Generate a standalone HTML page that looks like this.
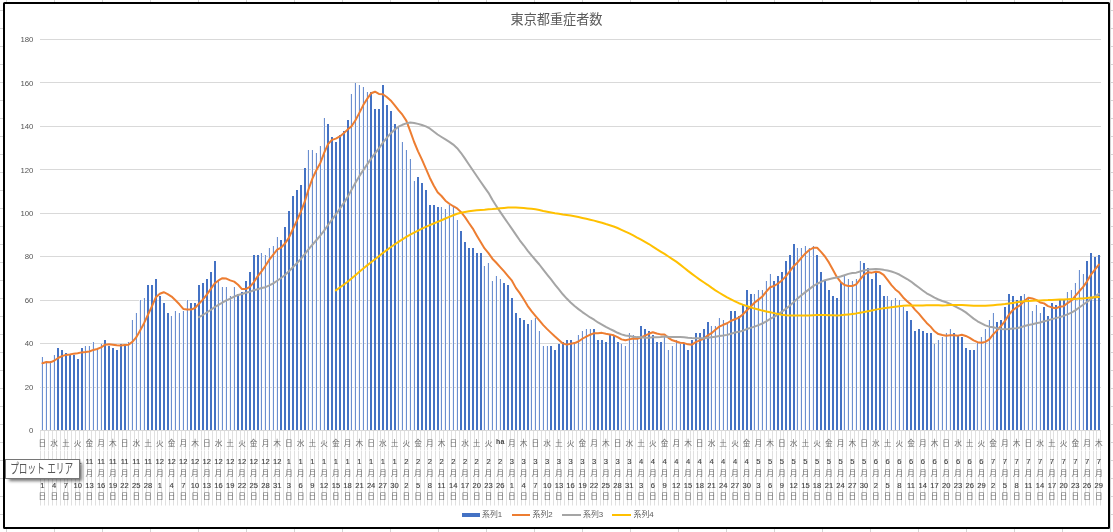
<!DOCTYPE html>
<html lang="ja"><head><meta charset="utf-8"><title>東京都重症者数</title>
<style>
html,body{margin:0;padding:0;background:#fff;}
body{width:1113px;height:532px;overflow:hidden;position:relative;font-family:"Liberation Sans","Noto Sans CJK JP",sans-serif;}
#sheet{position:absolute;left:0;top:0;width:1113px;height:532px;
 background-image:linear-gradient(to right,#d4d4d4 1px,transparent 1px),linear-gradient(to bottom,#d4d4d4 1px,transparent 1px);
 background-size:48px 100%,100% 18px;background-position:6px 0,0 10px;background-color:#fff;}
#chart{position:absolute;left:3px;top:2px;width:1103px;height:523px;border:2px solid #000;border-radius:1.5px;background:#fff;}
svg{position:absolute;left:0;top:0;}
svg text{font-family:"Liberation Sans","Noto Sans CJK JP",sans-serif;}
#tip{position:absolute;left:5px;top:459px;width:73px;height:18px;border:1px solid #767676;background:#fff;
 box-shadow:3px 3px 3px -1px rgba(0,0,0,.55);font-size:12px;line-height:18px;color:#575757;white-space:nowrap;text-align:center;
 font-family:"Liberation Sans","Noto Sans CJK JP",sans-serif;}
#tip span{display:inline-block;position:relative;left:-0.7px;top:0.2px;transform:scale(0.72,1.1);transform-origin:50% 50%;margin:0 -20px;letter-spacing:0;}
</style></head><body>
<div id="sheet"></div><div id="chart"></div>
<svg width="1113" height="532" viewBox="0 0 1113 532">
<g shape-rendering="crispEdges" fill="#D9D9D9">
<rect x="40" y="39" width="1061" height="1"/>
<rect x="40" y="82" width="1061" height="1"/>
<rect x="40" y="126" width="1061" height="1"/>
<rect x="40" y="169" width="1061" height="1"/>
<rect x="40" y="213" width="1061" height="1"/>
<rect x="40" y="256" width="1061" height="1"/>
<rect x="40" y="300" width="1061" height="1"/>
<rect x="40" y="343" width="1061" height="1"/>
<rect x="40" y="387" width="1061" height="1"/>
<rect x="40" y="430" width="1061" height="1"/>
</g>
<g font-size="7.8" fill="#555" text-anchor="end">
<text x="33.4" y="42.2">180</text>
<text x="33.4" y="85.6">160</text>
<text x="33.4" y="129.1">140</text>
<text x="33.4" y="172.5">120</text>
<text x="33.4" y="216.0">100</text>
<text x="33.4" y="259.4">80</text>
<text x="33.4" y="302.9">60</text>
<text x="33.4" y="346.3">40</text>
<text x="33.4" y="389.8">20</text>
<text x="33.4" y="433.2">0</text>
</g>
<g shape-rendering="crispEdges" fill="#E0E0E0">
<rect x="40" y="431" width="1" height="74"/><rect x="40" y="505" width="1" height="1" fill-opacity="0.5"/>
<rect x="44" y="431" width="1" height="74"/><rect x="44" y="505" width="1" height="1" fill-opacity="0.5"/>
<rect x="48" y="431" width="1" height="74"/><rect x="48" y="505" width="1" height="1" fill-opacity="0.5"/>
<rect x="52" y="431" width="1" height="74"/><rect x="52" y="505" width="1" height="1" fill-opacity="0.5"/>
<rect x="56" y="431" width="1" height="74"/><rect x="56" y="505" width="1" height="1" fill-opacity="0.5"/>
<rect x="60" y="431" width="1" height="74"/><rect x="60" y="505" width="1" height="1" fill-opacity="0.5"/>
<rect x="64" y="431" width="1" height="74"/><rect x="64" y="505" width="1" height="1" fill-opacity="0.5"/>
<rect x="67" y="431" width="1" height="74"/><rect x="67" y="505" width="1" height="1" fill-opacity="0.5"/>
<rect x="71" y="431" width="1" height="74"/><rect x="71" y="505" width="1" height="1" fill-opacity="0.5"/>
<rect x="75" y="431" width="1" height="74"/><rect x="75" y="505" width="1" height="1" fill-opacity="0.5"/>
<rect x="79" y="431" width="1" height="74"/><rect x="79" y="505" width="1" height="1" fill-opacity="0.5"/>
<rect x="83" y="431" width="1" height="74"/><rect x="83" y="505" width="1" height="1" fill-opacity="0.5"/>
<rect x="87" y="431" width="1" height="74"/><rect x="87" y="505" width="1" height="1" fill-opacity="0.5"/>
<rect x="91" y="431" width="1" height="74"/><rect x="91" y="505" width="1" height="1" fill-opacity="0.5"/>
<rect x="95" y="431" width="1" height="74"/><rect x="95" y="505" width="1" height="1" fill-opacity="0.5"/>
<rect x="99" y="431" width="1" height="74"/><rect x="99" y="505" width="1" height="1" fill-opacity="0.5"/>
<rect x="103" y="431" width="1" height="74"/><rect x="103" y="505" width="1" height="1" fill-opacity="0.5"/>
<rect x="107" y="431" width="1" height="74"/><rect x="107" y="505" width="1" height="1" fill-opacity="0.5"/>
<rect x="111" y="431" width="1" height="74"/><rect x="111" y="505" width="1" height="1" fill-opacity="0.5"/>
<rect x="114" y="431" width="1" height="74"/><rect x="114" y="505" width="1" height="1" fill-opacity="0.5"/>
<rect x="118" y="431" width="1" height="74"/><rect x="118" y="505" width="1" height="1" fill-opacity="0.5"/>
<rect x="122" y="431" width="1" height="74"/><rect x="122" y="505" width="1" height="1" fill-opacity="0.5"/>
<rect x="126" y="431" width="1" height="74"/><rect x="126" y="505" width="1" height="1" fill-opacity="0.5"/>
<rect x="130" y="431" width="1" height="74"/><rect x="130" y="505" width="1" height="1" fill-opacity="0.5"/>
<rect x="134" y="431" width="1" height="74"/><rect x="134" y="505" width="1" height="1" fill-opacity="0.5"/>
<rect x="138" y="431" width="1" height="74"/><rect x="138" y="505" width="1" height="1" fill-opacity="0.5"/>
<rect x="142" y="431" width="1" height="74"/><rect x="142" y="505" width="1" height="1" fill-opacity="0.5"/>
<rect x="146" y="431" width="1" height="74"/><rect x="146" y="505" width="1" height="1" fill-opacity="0.5"/>
<rect x="150" y="431" width="1" height="74"/><rect x="150" y="505" width="1" height="1" fill-opacity="0.5"/>
<rect x="154" y="431" width="1" height="74"/><rect x="154" y="505" width="1" height="1" fill-opacity="0.5"/>
<rect x="157" y="431" width="1" height="74"/><rect x="157" y="505" width="1" height="1" fill-opacity="0.5"/>
<rect x="161" y="431" width="1" height="74"/><rect x="161" y="505" width="1" height="1" fill-opacity="0.5"/>
<rect x="165" y="431" width="1" height="74"/><rect x="165" y="505" width="1" height="1" fill-opacity="0.5"/>
<rect x="169" y="431" width="1" height="74"/><rect x="169" y="505" width="1" height="1" fill-opacity="0.5"/>
<rect x="173" y="431" width="1" height="74"/><rect x="173" y="505" width="1" height="1" fill-opacity="0.5"/>
<rect x="177" y="431" width="1" height="74"/><rect x="177" y="505" width="1" height="1" fill-opacity="0.5"/>
<rect x="181" y="431" width="1" height="74"/><rect x="181" y="505" width="1" height="1" fill-opacity="0.5"/>
<rect x="185" y="431" width="1" height="74"/><rect x="185" y="505" width="1" height="1" fill-opacity="0.5"/>
<rect x="189" y="431" width="1" height="74"/><rect x="189" y="505" width="1" height="1" fill-opacity="0.5"/>
<rect x="193" y="431" width="1" height="74"/><rect x="193" y="505" width="1" height="1" fill-opacity="0.5"/>
<rect x="197" y="431" width="1" height="74"/><rect x="197" y="505" width="1" height="1" fill-opacity="0.5"/>
<rect x="201" y="431" width="1" height="74"/><rect x="201" y="505" width="1" height="1" fill-opacity="0.5"/>
<rect x="204" y="431" width="1" height="74"/><rect x="204" y="505" width="1" height="1" fill-opacity="0.5"/>
<rect x="208" y="431" width="1" height="74"/><rect x="208" y="505" width="1" height="1" fill-opacity="0.5"/>
<rect x="212" y="431" width="1" height="74"/><rect x="212" y="505" width="1" height="1" fill-opacity="0.5"/>
<rect x="216" y="431" width="1" height="74"/><rect x="216" y="505" width="1" height="1" fill-opacity="0.5"/>
<rect x="220" y="431" width="1" height="74"/><rect x="220" y="505" width="1" height="1" fill-opacity="0.5"/>
<rect x="224" y="431" width="1" height="74"/><rect x="224" y="505" width="1" height="1" fill-opacity="0.5"/>
<rect x="228" y="431" width="1" height="74"/><rect x="228" y="505" width="1" height="1" fill-opacity="0.5"/>
<rect x="232" y="431" width="1" height="74"/><rect x="232" y="505" width="1" height="1" fill-opacity="0.5"/>
<rect x="236" y="431" width="1" height="74"/><rect x="236" y="505" width="1" height="1" fill-opacity="0.5"/>
<rect x="240" y="431" width="1" height="74"/><rect x="240" y="505" width="1" height="1" fill-opacity="0.5"/>
<rect x="244" y="431" width="1" height="74"/><rect x="244" y="505" width="1" height="1" fill-opacity="0.5"/>
<rect x="247" y="431" width="1" height="74"/><rect x="247" y="505" width="1" height="1" fill-opacity="0.5"/>
<rect x="251" y="431" width="1" height="74"/><rect x="251" y="505" width="1" height="1" fill-opacity="0.5"/>
<rect x="255" y="431" width="1" height="74"/><rect x="255" y="505" width="1" height="1" fill-opacity="0.5"/>
<rect x="259" y="431" width="1" height="74"/><rect x="259" y="505" width="1" height="1" fill-opacity="0.5"/>
<rect x="263" y="431" width="1" height="74"/><rect x="263" y="505" width="1" height="1" fill-opacity="0.5"/>
<rect x="267" y="431" width="1" height="74"/><rect x="267" y="505" width="1" height="1" fill-opacity="0.5"/>
<rect x="271" y="431" width="1" height="74"/><rect x="271" y="505" width="1" height="1" fill-opacity="0.5"/>
<rect x="275" y="431" width="1" height="74"/><rect x="275" y="505" width="1" height="1" fill-opacity="0.5"/>
<rect x="279" y="431" width="1" height="74"/><rect x="279" y="505" width="1" height="1" fill-opacity="0.5"/>
<rect x="283" y="431" width="1" height="74"/><rect x="283" y="505" width="1" height="1" fill-opacity="0.5"/>
<rect x="287" y="431" width="1" height="74"/><rect x="287" y="505" width="1" height="1" fill-opacity="0.5"/>
<rect x="290" y="431" width="1" height="74"/><rect x="290" y="505" width="1" height="1" fill-opacity="0.5"/>
<rect x="294" y="431" width="1" height="74"/><rect x="294" y="505" width="1" height="1" fill-opacity="0.5"/>
<rect x="298" y="431" width="1" height="74"/><rect x="298" y="505" width="1" height="1" fill-opacity="0.5"/>
<rect x="302" y="431" width="1" height="74"/><rect x="302" y="505" width="1" height="1" fill-opacity="0.5"/>
<rect x="306" y="431" width="1" height="74"/><rect x="306" y="505" width="1" height="1" fill-opacity="0.5"/>
<rect x="310" y="431" width="1" height="74"/><rect x="310" y="505" width="1" height="1" fill-opacity="0.5"/>
<rect x="314" y="431" width="1" height="74"/><rect x="314" y="505" width="1" height="1" fill-opacity="0.5"/>
<rect x="318" y="431" width="1" height="74"/><rect x="318" y="505" width="1" height="1" fill-opacity="0.5"/>
<rect x="322" y="431" width="1" height="74"/><rect x="322" y="505" width="1" height="1" fill-opacity="0.5"/>
<rect x="326" y="431" width="1" height="74"/><rect x="326" y="505" width="1" height="1" fill-opacity="0.5"/>
<rect x="330" y="431" width="1" height="74"/><rect x="330" y="505" width="1" height="1" fill-opacity="0.5"/>
<rect x="334" y="431" width="1" height="74"/><rect x="334" y="505" width="1" height="1" fill-opacity="0.5"/>
<rect x="337" y="431" width="1" height="74"/><rect x="337" y="505" width="1" height="1" fill-opacity="0.5"/>
<rect x="341" y="431" width="1" height="74"/><rect x="341" y="505" width="1" height="1" fill-opacity="0.5"/>
<rect x="345" y="431" width="1" height="74"/><rect x="345" y="505" width="1" height="1" fill-opacity="0.5"/>
<rect x="349" y="431" width="1" height="74"/><rect x="349" y="505" width="1" height="1" fill-opacity="0.5"/>
<rect x="353" y="431" width="1" height="74"/><rect x="353" y="505" width="1" height="1" fill-opacity="0.5"/>
<rect x="357" y="431" width="1" height="74"/><rect x="357" y="505" width="1" height="1" fill-opacity="0.5"/>
<rect x="361" y="431" width="1" height="74"/><rect x="361" y="505" width="1" height="1" fill-opacity="0.5"/>
<rect x="365" y="431" width="1" height="74"/><rect x="365" y="505" width="1" height="1" fill-opacity="0.5"/>
<rect x="369" y="431" width="1" height="74"/><rect x="369" y="505" width="1" height="1" fill-opacity="0.5"/>
<rect x="373" y="431" width="1" height="74"/><rect x="373" y="505" width="1" height="1" fill-opacity="0.5"/>
<rect x="377" y="431" width="1" height="74"/><rect x="377" y="505" width="1" height="1" fill-opacity="0.5"/>
<rect x="380" y="431" width="1" height="74"/><rect x="380" y="505" width="1" height="1" fill-opacity="0.5"/>
<rect x="384" y="431" width="1" height="74"/><rect x="384" y="505" width="1" height="1" fill-opacity="0.5"/>
<rect x="388" y="431" width="1" height="74"/><rect x="388" y="505" width="1" height="1" fill-opacity="0.5"/>
<rect x="392" y="431" width="1" height="74"/><rect x="392" y="505" width="1" height="1" fill-opacity="0.5"/>
<rect x="396" y="431" width="1" height="74"/><rect x="396" y="505" width="1" height="1" fill-opacity="0.5"/>
<rect x="400" y="431" width="1" height="74"/><rect x="400" y="505" width="1" height="1" fill-opacity="0.5"/>
<rect x="404" y="431" width="1" height="74"/><rect x="404" y="505" width="1" height="1" fill-opacity="0.5"/>
<rect x="408" y="431" width="1" height="74"/><rect x="408" y="505" width="1" height="1" fill-opacity="0.5"/>
<rect x="412" y="431" width="1" height="74"/><rect x="412" y="505" width="1" height="1" fill-opacity="0.5"/>
<rect x="416" y="431" width="1" height="74"/><rect x="416" y="505" width="1" height="1" fill-opacity="0.5"/>
<rect x="420" y="431" width="1" height="74"/><rect x="420" y="505" width="1" height="1" fill-opacity="0.5"/>
<rect x="424" y="431" width="1" height="74"/><rect x="424" y="505" width="1" height="1" fill-opacity="0.5"/>
<rect x="427" y="431" width="1" height="74"/><rect x="427" y="505" width="1" height="1" fill-opacity="0.5"/>
<rect x="431" y="431" width="1" height="74"/><rect x="431" y="505" width="1" height="1" fill-opacity="0.5"/>
<rect x="435" y="431" width="1" height="74"/><rect x="435" y="505" width="1" height="1" fill-opacity="0.5"/>
<rect x="439" y="431" width="1" height="74"/><rect x="439" y="505" width="1" height="1" fill-opacity="0.5"/>
<rect x="443" y="431" width="1" height="74"/><rect x="443" y="505" width="1" height="1" fill-opacity="0.5"/>
<rect x="447" y="431" width="1" height="74"/><rect x="447" y="505" width="1" height="1" fill-opacity="0.5"/>
<rect x="451" y="431" width="1" height="74"/><rect x="451" y="505" width="1" height="1" fill-opacity="0.5"/>
<rect x="455" y="431" width="1" height="74"/><rect x="455" y="505" width="1" height="1" fill-opacity="0.5"/>
<rect x="459" y="431" width="1" height="74"/><rect x="459" y="505" width="1" height="1" fill-opacity="0.5"/>
<rect x="463" y="431" width="1" height="74"/><rect x="463" y="505" width="1" height="1" fill-opacity="0.5"/>
<rect x="467" y="431" width="1" height="74"/><rect x="467" y="505" width="1" height="1" fill-opacity="0.5"/>
<rect x="470" y="431" width="1" height="74"/><rect x="470" y="505" width="1" height="1" fill-opacity="0.5"/>
<rect x="474" y="431" width="1" height="74"/><rect x="474" y="505" width="1" height="1" fill-opacity="0.5"/>
<rect x="478" y="431" width="1" height="74"/><rect x="478" y="505" width="1" height="1" fill-opacity="0.5"/>
<rect x="482" y="431" width="1" height="74"/><rect x="482" y="505" width="1" height="1" fill-opacity="0.5"/>
<rect x="486" y="431" width="1" height="74"/><rect x="486" y="505" width="1" height="1" fill-opacity="0.5"/>
<rect x="490" y="431" width="1" height="74"/><rect x="490" y="505" width="1" height="1" fill-opacity="0.5"/>
<rect x="494" y="431" width="1" height="74"/><rect x="494" y="505" width="1" height="1" fill-opacity="0.5"/>
<rect x="498" y="431" width="1" height="74"/><rect x="498" y="505" width="1" height="1" fill-opacity="0.5"/>
<rect x="502" y="431" width="1" height="74"/><rect x="502" y="505" width="1" height="1" fill-opacity="0.5"/>
<rect x="506" y="431" width="1" height="74"/><rect x="506" y="505" width="1" height="1" fill-opacity="0.5"/>
<rect x="510" y="431" width="1" height="74"/><rect x="510" y="505" width="1" height="1" fill-opacity="0.5"/>
<rect x="514" y="431" width="1" height="74"/><rect x="514" y="505" width="1" height="1" fill-opacity="0.5"/>
<rect x="517" y="431" width="1" height="74"/><rect x="517" y="505" width="1" height="1" fill-opacity="0.5"/>
<rect x="521" y="431" width="1" height="74"/><rect x="521" y="505" width="1" height="1" fill-opacity="0.5"/>
<rect x="525" y="431" width="1" height="74"/><rect x="525" y="505" width="1" height="1" fill-opacity="0.5"/>
<rect x="529" y="431" width="1" height="74"/><rect x="529" y="505" width="1" height="1" fill-opacity="0.5"/>
<rect x="533" y="431" width="1" height="74"/><rect x="533" y="505" width="1" height="1" fill-opacity="0.5"/>
<rect x="537" y="431" width="1" height="74"/><rect x="537" y="505" width="1" height="1" fill-opacity="0.5"/>
<rect x="541" y="431" width="1" height="74"/><rect x="541" y="505" width="1" height="1" fill-opacity="0.5"/>
<rect x="545" y="431" width="1" height="74"/><rect x="545" y="505" width="1" height="1" fill-opacity="0.5"/>
<rect x="549" y="431" width="1" height="74"/><rect x="549" y="505" width="1" height="1" fill-opacity="0.5"/>
<rect x="553" y="431" width="1" height="74"/><rect x="553" y="505" width="1" height="1" fill-opacity="0.5"/>
<rect x="557" y="431" width="1" height="74"/><rect x="557" y="505" width="1" height="1" fill-opacity="0.5"/>
<rect x="560" y="431" width="1" height="74"/><rect x="560" y="505" width="1" height="1" fill-opacity="0.5"/>
<rect x="564" y="431" width="1" height="74"/><rect x="564" y="505" width="1" height="1" fill-opacity="0.5"/>
<rect x="568" y="431" width="1" height="74"/><rect x="568" y="505" width="1" height="1" fill-opacity="0.5"/>
<rect x="572" y="431" width="1" height="74"/><rect x="572" y="505" width="1" height="1" fill-opacity="0.5"/>
<rect x="576" y="431" width="1" height="74"/><rect x="576" y="505" width="1" height="1" fill-opacity="0.5"/>
<rect x="580" y="431" width="1" height="74"/><rect x="580" y="505" width="1" height="1" fill-opacity="0.5"/>
<rect x="584" y="431" width="1" height="74"/><rect x="584" y="505" width="1" height="1" fill-opacity="0.5"/>
<rect x="588" y="431" width="1" height="74"/><rect x="588" y="505" width="1" height="1" fill-opacity="0.5"/>
<rect x="592" y="431" width="1" height="74"/><rect x="592" y="505" width="1" height="1" fill-opacity="0.5"/>
<rect x="596" y="431" width="1" height="74"/><rect x="596" y="505" width="1" height="1" fill-opacity="0.5"/>
<rect x="600" y="431" width="1" height="74"/><rect x="600" y="505" width="1" height="1" fill-opacity="0.5"/>
<rect x="603" y="431" width="1" height="74"/><rect x="603" y="505" width="1" height="1" fill-opacity="0.5"/>
<rect x="607" y="431" width="1" height="74"/><rect x="607" y="505" width="1" height="1" fill-opacity="0.5"/>
<rect x="611" y="431" width="1" height="74"/><rect x="611" y="505" width="1" height="1" fill-opacity="0.5"/>
<rect x="615" y="431" width="1" height="74"/><rect x="615" y="505" width="1" height="1" fill-opacity="0.5"/>
<rect x="619" y="431" width="1" height="74"/><rect x="619" y="505" width="1" height="1" fill-opacity="0.5"/>
<rect x="623" y="431" width="1" height="74"/><rect x="623" y="505" width="1" height="1" fill-opacity="0.5"/>
<rect x="627" y="431" width="1" height="74"/><rect x="627" y="505" width="1" height="1" fill-opacity="0.5"/>
<rect x="631" y="431" width="1" height="74"/><rect x="631" y="505" width="1" height="1" fill-opacity="0.5"/>
<rect x="635" y="431" width="1" height="74"/><rect x="635" y="505" width="1" height="1" fill-opacity="0.5"/>
<rect x="639" y="431" width="1" height="74"/><rect x="639" y="505" width="1" height="1" fill-opacity="0.5"/>
<rect x="643" y="431" width="1" height="74"/><rect x="643" y="505" width="1" height="1" fill-opacity="0.5"/>
<rect x="647" y="431" width="1" height="74"/><rect x="647" y="505" width="1" height="1" fill-opacity="0.5"/>
<rect x="650" y="431" width="1" height="74"/><rect x="650" y="505" width="1" height="1" fill-opacity="0.5"/>
<rect x="654" y="431" width="1" height="74"/><rect x="654" y="505" width="1" height="1" fill-opacity="0.5"/>
<rect x="658" y="431" width="1" height="74"/><rect x="658" y="505" width="1" height="1" fill-opacity="0.5"/>
<rect x="662" y="431" width="1" height="74"/><rect x="662" y="505" width="1" height="1" fill-opacity="0.5"/>
<rect x="666" y="431" width="1" height="74"/><rect x="666" y="505" width="1" height="1" fill-opacity="0.5"/>
<rect x="670" y="431" width="1" height="74"/><rect x="670" y="505" width="1" height="1" fill-opacity="0.5"/>
<rect x="674" y="431" width="1" height="74"/><rect x="674" y="505" width="1" height="1" fill-opacity="0.5"/>
<rect x="678" y="431" width="1" height="74"/><rect x="678" y="505" width="1" height="1" fill-opacity="0.5"/>
<rect x="682" y="431" width="1" height="74"/><rect x="682" y="505" width="1" height="1" fill-opacity="0.5"/>
<rect x="686" y="431" width="1" height="74"/><rect x="686" y="505" width="1" height="1" fill-opacity="0.5"/>
<rect x="690" y="431" width="1" height="74"/><rect x="690" y="505" width="1" height="1" fill-opacity="0.5"/>
<rect x="693" y="431" width="1" height="74"/><rect x="693" y="505" width="1" height="1" fill-opacity="0.5"/>
<rect x="697" y="431" width="1" height="74"/><rect x="697" y="505" width="1" height="1" fill-opacity="0.5"/>
<rect x="701" y="431" width="1" height="74"/><rect x="701" y="505" width="1" height="1" fill-opacity="0.5"/>
<rect x="705" y="431" width="1" height="74"/><rect x="705" y="505" width="1" height="1" fill-opacity="0.5"/>
<rect x="709" y="431" width="1" height="74"/><rect x="709" y="505" width="1" height="1" fill-opacity="0.5"/>
<rect x="713" y="431" width="1" height="74"/><rect x="713" y="505" width="1" height="1" fill-opacity="0.5"/>
<rect x="717" y="431" width="1" height="74"/><rect x="717" y="505" width="1" height="1" fill-opacity="0.5"/>
<rect x="721" y="431" width="1" height="74"/><rect x="721" y="505" width="1" height="1" fill-opacity="0.5"/>
<rect x="725" y="431" width="1" height="74"/><rect x="725" y="505" width="1" height="1" fill-opacity="0.5"/>
<rect x="729" y="431" width="1" height="74"/><rect x="729" y="505" width="1" height="1" fill-opacity="0.5"/>
<rect x="733" y="431" width="1" height="74"/><rect x="733" y="505" width="1" height="1" fill-opacity="0.5"/>
<rect x="737" y="431" width="1" height="74"/><rect x="737" y="505" width="1" height="1" fill-opacity="0.5"/>
<rect x="740" y="431" width="1" height="74"/><rect x="740" y="505" width="1" height="1" fill-opacity="0.5"/>
<rect x="744" y="431" width="1" height="74"/><rect x="744" y="505" width="1" height="1" fill-opacity="0.5"/>
<rect x="748" y="431" width="1" height="74"/><rect x="748" y="505" width="1" height="1" fill-opacity="0.5"/>
<rect x="752" y="431" width="1" height="74"/><rect x="752" y="505" width="1" height="1" fill-opacity="0.5"/>
<rect x="756" y="431" width="1" height="74"/><rect x="756" y="505" width="1" height="1" fill-opacity="0.5"/>
<rect x="760" y="431" width="1" height="74"/><rect x="760" y="505" width="1" height="1" fill-opacity="0.5"/>
<rect x="764" y="431" width="1" height="74"/><rect x="764" y="505" width="1" height="1" fill-opacity="0.5"/>
<rect x="768" y="431" width="1" height="74"/><rect x="768" y="505" width="1" height="1" fill-opacity="0.5"/>
<rect x="772" y="431" width="1" height="74"/><rect x="772" y="505" width="1" height="1" fill-opacity="0.5"/>
<rect x="776" y="431" width="1" height="74"/><rect x="776" y="505" width="1" height="1" fill-opacity="0.5"/>
<rect x="780" y="431" width="1" height="74"/><rect x="780" y="505" width="1" height="1" fill-opacity="0.5"/>
<rect x="783" y="431" width="1" height="74"/><rect x="783" y="505" width="1" height="1" fill-opacity="0.5"/>
<rect x="787" y="431" width="1" height="74"/><rect x="787" y="505" width="1" height="1" fill-opacity="0.5"/>
<rect x="791" y="431" width="1" height="74"/><rect x="791" y="505" width="1" height="1" fill-opacity="0.5"/>
<rect x="795" y="431" width="1" height="74"/><rect x="795" y="505" width="1" height="1" fill-opacity="0.5"/>
<rect x="799" y="431" width="1" height="74"/><rect x="799" y="505" width="1" height="1" fill-opacity="0.5"/>
<rect x="803" y="431" width="1" height="74"/><rect x="803" y="505" width="1" height="1" fill-opacity="0.5"/>
<rect x="807" y="431" width="1" height="74"/><rect x="807" y="505" width="1" height="1" fill-opacity="0.5"/>
<rect x="811" y="431" width="1" height="74"/><rect x="811" y="505" width="1" height="1" fill-opacity="0.5"/>
<rect x="815" y="431" width="1" height="74"/><rect x="815" y="505" width="1" height="1" fill-opacity="0.5"/>
<rect x="819" y="431" width="1" height="74"/><rect x="819" y="505" width="1" height="1" fill-opacity="0.5"/>
<rect x="823" y="431" width="1" height="74"/><rect x="823" y="505" width="1" height="1" fill-opacity="0.5"/>
<rect x="827" y="431" width="1" height="74"/><rect x="827" y="505" width="1" height="1" fill-opacity="0.5"/>
<rect x="830" y="431" width="1" height="74"/><rect x="830" y="505" width="1" height="1" fill-opacity="0.5"/>
<rect x="834" y="431" width="1" height="74"/><rect x="834" y="505" width="1" height="1" fill-opacity="0.5"/>
<rect x="838" y="431" width="1" height="74"/><rect x="838" y="505" width="1" height="1" fill-opacity="0.5"/>
<rect x="842" y="431" width="1" height="74"/><rect x="842" y="505" width="1" height="1" fill-opacity="0.5"/>
<rect x="846" y="431" width="1" height="74"/><rect x="846" y="505" width="1" height="1" fill-opacity="0.5"/>
<rect x="850" y="431" width="1" height="74"/><rect x="850" y="505" width="1" height="1" fill-opacity="0.5"/>
<rect x="854" y="431" width="1" height="74"/><rect x="854" y="505" width="1" height="1" fill-opacity="0.5"/>
<rect x="858" y="431" width="1" height="74"/><rect x="858" y="505" width="1" height="1" fill-opacity="0.5"/>
<rect x="862" y="431" width="1" height="74"/><rect x="862" y="505" width="1" height="1" fill-opacity="0.5"/>
<rect x="866" y="431" width="1" height="74"/><rect x="866" y="505" width="1" height="1" fill-opacity="0.5"/>
<rect x="870" y="431" width="1" height="74"/><rect x="870" y="505" width="1" height="1" fill-opacity="0.5"/>
<rect x="873" y="431" width="1" height="74"/><rect x="873" y="505" width="1" height="1" fill-opacity="0.5"/>
<rect x="877" y="431" width="1" height="74"/><rect x="877" y="505" width="1" height="1" fill-opacity="0.5"/>
<rect x="881" y="431" width="1" height="74"/><rect x="881" y="505" width="1" height="1" fill-opacity="0.5"/>
<rect x="885" y="431" width="1" height="74"/><rect x="885" y="505" width="1" height="1" fill-opacity="0.5"/>
<rect x="889" y="431" width="1" height="74"/><rect x="889" y="505" width="1" height="1" fill-opacity="0.5"/>
<rect x="893" y="431" width="1" height="74"/><rect x="893" y="505" width="1" height="1" fill-opacity="0.5"/>
<rect x="897" y="431" width="1" height="74"/><rect x="897" y="505" width="1" height="1" fill-opacity="0.5"/>
<rect x="901" y="431" width="1" height="74"/><rect x="901" y="505" width="1" height="1" fill-opacity="0.5"/>
<rect x="905" y="431" width="1" height="74"/><rect x="905" y="505" width="1" height="1" fill-opacity="0.5"/>
<rect x="909" y="431" width="1" height="74"/><rect x="909" y="505" width="1" height="1" fill-opacity="0.5"/>
<rect x="913" y="431" width="1" height="74"/><rect x="913" y="505" width="1" height="1" fill-opacity="0.5"/>
<rect x="916" y="431" width="1" height="74"/><rect x="916" y="505" width="1" height="1" fill-opacity="0.5"/>
<rect x="920" y="431" width="1" height="74"/><rect x="920" y="505" width="1" height="1" fill-opacity="0.5"/>
<rect x="924" y="431" width="1" height="74"/><rect x="924" y="505" width="1" height="1" fill-opacity="0.5"/>
<rect x="928" y="431" width="1" height="74"/><rect x="928" y="505" width="1" height="1" fill-opacity="0.5"/>
<rect x="932" y="431" width="1" height="74"/><rect x="932" y="505" width="1" height="1" fill-opacity="0.5"/>
<rect x="936" y="431" width="1" height="74"/><rect x="936" y="505" width="1" height="1" fill-opacity="0.5"/>
<rect x="940" y="431" width="1" height="74"/><rect x="940" y="505" width="1" height="1" fill-opacity="0.5"/>
<rect x="944" y="431" width="1" height="74"/><rect x="944" y="505" width="1" height="1" fill-opacity="0.5"/>
<rect x="948" y="431" width="1" height="74"/><rect x="948" y="505" width="1" height="1" fill-opacity="0.5"/>
<rect x="952" y="431" width="1" height="74"/><rect x="952" y="505" width="1" height="1" fill-opacity="0.5"/>
<rect x="956" y="431" width="1" height="74"/><rect x="956" y="505" width="1" height="1" fill-opacity="0.5"/>
<rect x="960" y="431" width="1" height="74"/><rect x="960" y="505" width="1" height="1" fill-opacity="0.5"/>
<rect x="963" y="431" width="1" height="74"/><rect x="963" y="505" width="1" height="1" fill-opacity="0.5"/>
<rect x="967" y="431" width="1" height="74"/><rect x="967" y="505" width="1" height="1" fill-opacity="0.5"/>
<rect x="971" y="431" width="1" height="74"/><rect x="971" y="505" width="1" height="1" fill-opacity="0.5"/>
<rect x="975" y="431" width="1" height="74"/><rect x="975" y="505" width="1" height="1" fill-opacity="0.5"/>
<rect x="979" y="431" width="1" height="74"/><rect x="979" y="505" width="1" height="1" fill-opacity="0.5"/>
<rect x="983" y="431" width="1" height="74"/><rect x="983" y="505" width="1" height="1" fill-opacity="0.5"/>
<rect x="987" y="431" width="1" height="74"/><rect x="987" y="505" width="1" height="1" fill-opacity="0.5"/>
<rect x="991" y="431" width="1" height="74"/><rect x="991" y="505" width="1" height="1" fill-opacity="0.5"/>
<rect x="995" y="431" width="1" height="74"/><rect x="995" y="505" width="1" height="1" fill-opacity="0.5"/>
<rect x="999" y="431" width="1" height="74"/><rect x="999" y="505" width="1" height="1" fill-opacity="0.5"/>
<rect x="1003" y="431" width="1" height="74"/><rect x="1003" y="505" width="1" height="1" fill-opacity="0.5"/>
<rect x="1006" y="431" width="1" height="74"/><rect x="1006" y="505" width="1" height="1" fill-opacity="0.5"/>
<rect x="1010" y="431" width="1" height="74"/><rect x="1010" y="505" width="1" height="1" fill-opacity="0.5"/>
<rect x="1014" y="431" width="1" height="74"/><rect x="1014" y="505" width="1" height="1" fill-opacity="0.5"/>
<rect x="1018" y="431" width="1" height="74"/><rect x="1018" y="505" width="1" height="1" fill-opacity="0.5"/>
<rect x="1022" y="431" width="1" height="74"/><rect x="1022" y="505" width="1" height="1" fill-opacity="0.5"/>
<rect x="1026" y="431" width="1" height="74"/><rect x="1026" y="505" width="1" height="1" fill-opacity="0.5"/>
<rect x="1030" y="431" width="1" height="74"/><rect x="1030" y="505" width="1" height="1" fill-opacity="0.5"/>
<rect x="1034" y="431" width="1" height="74"/><rect x="1034" y="505" width="1" height="1" fill-opacity="0.5"/>
<rect x="1038" y="431" width="1" height="74"/><rect x="1038" y="505" width="1" height="1" fill-opacity="0.5"/>
<rect x="1042" y="431" width="1" height="74"/><rect x="1042" y="505" width="1" height="1" fill-opacity="0.5"/>
<rect x="1046" y="431" width="1" height="74"/><rect x="1046" y="505" width="1" height="1" fill-opacity="0.5"/>
<rect x="1050" y="431" width="1" height="74"/><rect x="1050" y="505" width="1" height="1" fill-opacity="0.5"/>
<rect x="1053" y="431" width="1" height="74"/><rect x="1053" y="505" width="1" height="1" fill-opacity="0.5"/>
<rect x="1057" y="431" width="1" height="74"/><rect x="1057" y="505" width="1" height="1" fill-opacity="0.5"/>
<rect x="1061" y="431" width="1" height="74"/><rect x="1061" y="505" width="1" height="1" fill-opacity="0.5"/>
<rect x="1065" y="431" width="1" height="74"/><rect x="1065" y="505" width="1" height="1" fill-opacity="0.5"/>
<rect x="1069" y="431" width="1" height="74"/><rect x="1069" y="505" width="1" height="1" fill-opacity="0.5"/>
<rect x="1073" y="431" width="1" height="74"/><rect x="1073" y="505" width="1" height="1" fill-opacity="0.5"/>
<rect x="1077" y="431" width="1" height="74"/><rect x="1077" y="505" width="1" height="1" fill-opacity="0.5"/>
<rect x="1081" y="431" width="1" height="74"/><rect x="1081" y="505" width="1" height="1" fill-opacity="0.5"/>
<rect x="1085" y="431" width="1" height="74"/><rect x="1085" y="505" width="1" height="1" fill-opacity="0.5"/>
<rect x="1089" y="431" width="1" height="74"/><rect x="1089" y="505" width="1" height="1" fill-opacity="0.5"/>
<rect x="1093" y="431" width="1" height="74"/><rect x="1093" y="505" width="1" height="1" fill-opacity="0.5"/>
<rect x="1096" y="431" width="1" height="74"/><rect x="1096" y="505" width="1" height="1" fill-opacity="0.5"/>
<rect x="1100" y="431" width="1" height="74"/><rect x="1100" y="505" width="1" height="1" fill-opacity="0.5"/>
<rect x="40" y="450" width="1062" height="1" fill="#fff" fill-opacity="0.55"/>
</g>
<g shape-rendering="crispEdges" fill="#4472C4"><rect x="57" y="348" width="2" height="82"/><rect x="61" y="350" width="2" height="80"/><rect x="65" y="353" width="2" height="77"/><rect x="69" y="355" width="2" height="75"/><rect x="73" y="355" width="2" height="75"/><rect x="77" y="359" width="2" height="71"/><rect x="81" y="348" width="2" height="82"/><rect x="104" y="340" width="2" height="90"/><rect x="108" y="346" width="2" height="84"/><rect x="112" y="348" width="2" height="82"/><rect x="116" y="350" width="2" height="80"/><rect x="120" y="344" width="2" height="86"/><rect x="124" y="344" width="2" height="86"/><rect x="147" y="285" width="2" height="145"/><rect x="151" y="285" width="2" height="145"/><rect x="155" y="279" width="2" height="151"/><rect x="159" y="296" width="2" height="134"/><rect x="163" y="303" width="2" height="127"/><rect x="167" y="313" width="2" height="117"/><rect x="190" y="303" width="2" height="127"/><rect x="194" y="303" width="2" height="127"/><rect x="198" y="285" width="2" height="145"/><rect x="202" y="283" width="2" height="147"/><rect x="206" y="279" width="2" height="151"/><rect x="210" y="272" width="2" height="158"/><rect x="214" y="261" width="2" height="169"/><rect x="237" y="294" width="2" height="136"/><rect x="241" y="292" width="2" height="138"/><rect x="245" y="281" width="2" height="149"/><rect x="249" y="272" width="2" height="158"/><rect x="253" y="255" width="2" height="175"/><rect x="257" y="255" width="2" height="175"/><rect x="280" y="240" width="2" height="190"/><rect x="284" y="227" width="2" height="203"/><rect x="288" y="211" width="2" height="219"/><rect x="292" y="196" width="2" height="234"/><rect x="296" y="190" width="2" height="240"/><rect x="300" y="185" width="2" height="245"/><rect x="304" y="168" width="2" height="262"/><rect x="327" y="124" width="2" height="306"/><rect x="331" y="137" width="2" height="293"/><rect x="335" y="142" width="2" height="288"/><rect x="339" y="135" width="2" height="295"/><rect x="343" y="131" width="2" height="299"/><rect x="347" y="120" width="2" height="310"/><rect x="370" y="92" width="2" height="338"/><rect x="374" y="109" width="2" height="321"/><rect x="378" y="109" width="2" height="321"/><rect x="382" y="85" width="2" height="345"/><rect x="386" y="105" width="2" height="325"/><rect x="390" y="111" width="2" height="319"/><rect x="394" y="124" width="2" height="306"/><rect x="417" y="177" width="2" height="253"/><rect x="421" y="183" width="2" height="247"/><rect x="425" y="190" width="2" height="240"/><rect x="429" y="205" width="2" height="225"/><rect x="433" y="205" width="2" height="225"/><rect x="437" y="207" width="2" height="223"/><rect x="460" y="231" width="2" height="199"/><rect x="464" y="242" width="2" height="188"/><rect x="468" y="248" width="2" height="182"/><rect x="472" y="248" width="2" height="182"/><rect x="476" y="253" width="2" height="177"/><rect x="480" y="253" width="2" height="177"/><rect x="503" y="283" width="2" height="147"/><rect x="507" y="285" width="2" height="145"/><rect x="511" y="298" width="2" height="132"/><rect x="515" y="313" width="2" height="117"/><rect x="519" y="318" width="2" height="112"/><rect x="523" y="320" width="2" height="110"/><rect x="527" y="324" width="2" height="106"/><rect x="550" y="346" width="2" height="84"/><rect x="554" y="350" width="2" height="80"/><rect x="558" y="344" width="2" height="86"/><rect x="562" y="342" width="2" height="88"/><rect x="566" y="340" width="2" height="90"/><rect x="570" y="340" width="2" height="90"/><rect x="593" y="329" width="2" height="101"/><rect x="597" y="340" width="2" height="90"/><rect x="601" y="340" width="2" height="90"/><rect x="605" y="342" width="2" height="88"/><rect x="609" y="335" width="2" height="95"/><rect x="613" y="335" width="2" height="95"/><rect x="617" y="342" width="2" height="88"/><rect x="640" y="326" width="2" height="104"/><rect x="644" y="329" width="2" height="101"/><rect x="648" y="331" width="2" height="99"/><rect x="652" y="335" width="2" height="95"/><rect x="656" y="342" width="2" height="88"/><rect x="660" y="342" width="2" height="88"/><rect x="683" y="344" width="2" height="86"/><rect x="687" y="350" width="2" height="80"/><rect x="691" y="340" width="2" height="90"/><rect x="695" y="333" width="2" height="97"/><rect x="699" y="333" width="2" height="97"/><rect x="703" y="329" width="2" height="101"/><rect x="707" y="322" width="2" height="108"/><rect x="730" y="311" width="2" height="119"/><rect x="734" y="311" width="2" height="119"/><rect x="738" y="316" width="2" height="114"/><rect x="742" y="305" width="2" height="125"/><rect x="746" y="290" width="2" height="140"/><rect x="750" y="294" width="2" height="136"/><rect x="773" y="281" width="2" height="149"/><rect x="777" y="276" width="2" height="154"/><rect x="781" y="272" width="2" height="158"/><rect x="785" y="261" width="2" height="169"/><rect x="789" y="255" width="2" height="175"/><rect x="793" y="244" width="2" height="186"/><rect x="816" y="255" width="2" height="175"/><rect x="820" y="272" width="2" height="158"/><rect x="824" y="281" width="2" height="149"/><rect x="828" y="290" width="2" height="140"/><rect x="832" y="296" width="2" height="134"/><rect x="836" y="298" width="2" height="132"/><rect x="840" y="283" width="2" height="147"/><rect x="863" y="263" width="2" height="167"/><rect x="867" y="268" width="2" height="162"/><rect x="871" y="279" width="2" height="151"/><rect x="875" y="272" width="2" height="158"/><rect x="879" y="285" width="2" height="145"/><rect x="883" y="296" width="2" height="134"/><rect x="906" y="311" width="2" height="119"/><rect x="910" y="320" width="2" height="110"/><rect x="914" y="331" width="2" height="99"/><rect x="918" y="329" width="2" height="101"/><rect x="922" y="331" width="2" height="99"/><rect x="926" y="333" width="2" height="97"/><rect x="930" y="333" width="2" height="97"/><rect x="953" y="333" width="2" height="97"/><rect x="957" y="335" width="2" height="95"/><rect x="961" y="337" width="2" height="93"/><rect x="965" y="348" width="2" height="82"/><rect x="969" y="350" width="2" height="80"/><rect x="973" y="350" width="2" height="80"/><rect x="996" y="322" width="2" height="108"/><rect x="1000" y="320" width="2" height="110"/><rect x="1004" y="307" width="2" height="123"/><rect x="1008" y="294" width="2" height="136"/><rect x="1012" y="296" width="2" height="134"/><rect x="1016" y="300" width="2" height="130"/><rect x="1020" y="296" width="2" height="134"/><rect x="1043" y="307" width="2" height="123"/><rect x="1047" y="316" width="2" height="114"/><rect x="1051" y="303" width="2" height="127"/><rect x="1055" y="305" width="2" height="125"/><rect x="1059" y="300" width="2" height="130"/><rect x="1063" y="300" width="2" height="130"/><rect x="1086" y="261" width="2" height="169"/><rect x="1090" y="253" width="2" height="177"/><rect x="1094" y="257" width="2" height="173"/><rect x="1098" y="255" width="2" height="175"/></g>
<g shape-rendering="crispEdges" fill="#6B8FD0"><rect x="42" y="357" width="1" height="73"/><rect x="46" y="361" width="1" height="69"/><rect x="50" y="361" width="1" height="69"/><rect x="54" y="355" width="1" height="75"/><rect x="85" y="346" width="1" height="84"/><rect x="89" y="346" width="1" height="84"/><rect x="93" y="342" width="1" height="88"/><rect x="97" y="348" width="1" height="82"/><rect x="101" y="344" width="1" height="86"/><rect x="128" y="342" width="1" height="88"/><rect x="132" y="320" width="1" height="110"/><rect x="136" y="313" width="1" height="117"/><rect x="140" y="300" width="1" height="130"/><rect x="144" y="298" width="1" height="132"/><rect x="171" y="316" width="1" height="114"/><rect x="175" y="311" width="1" height="119"/><rect x="179" y="313" width="1" height="117"/><rect x="183" y="311" width="1" height="119"/><rect x="187" y="300" width="1" height="130"/><rect x="218" y="281" width="1" height="149"/><rect x="222" y="287" width="1" height="143"/><rect x="226" y="287" width="1" height="143"/><rect x="230" y="296" width="1" height="134"/><rect x="234" y="287" width="1" height="143"/><rect x="261" y="253" width="1" height="177"/><rect x="265" y="255" width="1" height="175"/><rect x="269" y="248" width="1" height="182"/><rect x="273" y="246" width="1" height="184"/><rect x="277" y="237" width="1" height="193"/><rect x="308" y="150" width="1" height="280"/><rect x="312" y="150" width="1" height="280"/><rect x="316" y="153" width="1" height="277"/><rect x="320" y="146" width="1" height="284"/><rect x="324" y="118" width="1" height="312"/><rect x="351" y="94" width="1" height="336"/><rect x="355" y="83" width="1" height="347"/><rect x="359" y="85" width="1" height="345"/><rect x="363" y="87" width="1" height="343"/><rect x="367" y="92" width="1" height="338"/><rect x="398" y="127" width="1" height="303"/><rect x="402" y="142" width="1" height="288"/><rect x="406" y="150" width="1" height="280"/><rect x="410" y="159" width="1" height="271"/><rect x="414" y="181" width="1" height="249"/><rect x="441" y="207" width="1" height="223"/><rect x="445" y="209" width="1" height="221"/><rect x="449" y="205" width="1" height="225"/><rect x="453" y="207" width="1" height="223"/><rect x="457" y="220" width="1" height="210"/><rect x="484" y="266" width="1" height="164"/><rect x="488" y="263" width="1" height="167"/><rect x="492" y="281" width="1" height="149"/><rect x="496" y="276" width="1" height="154"/><rect x="500" y="279" width="1" height="151"/><rect x="531" y="320" width="1" height="110"/><rect x="535" y="318" width="1" height="112"/><rect x="539" y="331" width="1" height="99"/><rect x="543" y="346" width="1" height="84"/><rect x="547" y="346" width="1" height="84"/><rect x="574" y="342" width="1" height="88"/><rect x="578" y="335" width="1" height="95"/><rect x="582" y="331" width="1" height="99"/><rect x="586" y="329" width="1" height="101"/><rect x="590" y="329" width="1" height="101"/><rect x="621" y="344" width="1" height="86"/><rect x="625" y="346" width="1" height="84"/><rect x="629" y="333" width="1" height="97"/><rect x="633" y="335" width="1" height="95"/><rect x="637" y="337" width="1" height="93"/><rect x="664" y="337" width="1" height="93"/><rect x="668" y="350" width="1" height="80"/><rect x="672" y="346" width="1" height="84"/><rect x="676" y="340" width="1" height="90"/><rect x="680" y="344" width="1" height="86"/><rect x="711" y="326" width="1" height="104"/><rect x="715" y="326" width="1" height="104"/><rect x="719" y="318" width="1" height="112"/><rect x="723" y="320" width="1" height="110"/><rect x="727" y="322" width="1" height="108"/><rect x="754" y="294" width="1" height="136"/><rect x="758" y="290" width="1" height="140"/><rect x="762" y="290" width="1" height="140"/><rect x="766" y="281" width="1" height="149"/><rect x="770" y="274" width="1" height="156"/><rect x="797" y="248" width="1" height="182"/><rect x="801" y="248" width="1" height="182"/><rect x="805" y="246" width="1" height="184"/><rect x="809" y="248" width="1" height="182"/><rect x="813" y="246" width="1" height="184"/><rect x="844" y="276" width="1" height="154"/><rect x="848" y="279" width="1" height="151"/><rect x="852" y="281" width="1" height="149"/><rect x="856" y="279" width="1" height="151"/><rect x="860" y="261" width="1" height="169"/><rect x="887" y="296" width="1" height="134"/><rect x="891" y="300" width="1" height="130"/><rect x="895" y="298" width="1" height="132"/><rect x="899" y="300" width="1" height="130"/><rect x="903" y="307" width="1" height="123"/><rect x="934" y="344" width="1" height="86"/><rect x="938" y="340" width="1" height="90"/><rect x="942" y="337" width="1" height="93"/><rect x="946" y="333" width="1" height="97"/><rect x="950" y="329" width="1" height="101"/><rect x="977" y="342" width="1" height="88"/><rect x="981" y="337" width="1" height="93"/><rect x="985" y="329" width="1" height="101"/><rect x="989" y="320" width="1" height="110"/><rect x="993" y="313" width="1" height="117"/><rect x="1024" y="294" width="1" height="136"/><rect x="1028" y="298" width="1" height="132"/><rect x="1032" y="311" width="1" height="119"/><rect x="1036" y="305" width="1" height="125"/><rect x="1040" y="313" width="1" height="117"/><rect x="1067" y="292" width="1" height="138"/><rect x="1071" y="290" width="1" height="140"/><rect x="1075" y="283" width="1" height="147"/><rect x="1079" y="270" width="1" height="160"/><rect x="1083" y="274" width="1" height="156"/></g>
<g shape-rendering="crispEdges" fill="#EEF2FA"><rect x="41" y="357" width="1" height="73"/><rect x="45" y="361" width="1" height="69"/><rect x="49" y="361" width="1" height="69"/><rect x="53" y="355" width="1" height="75"/><rect x="84" y="346" width="1" height="84"/><rect x="88" y="346" width="1" height="84"/><rect x="92" y="342" width="1" height="88"/><rect x="96" y="348" width="1" height="82"/><rect x="100" y="344" width="1" height="86"/><rect x="127" y="342" width="1" height="88"/><rect x="131" y="320" width="1" height="110"/><rect x="135" y="313" width="1" height="117"/><rect x="139" y="300" width="1" height="130"/><rect x="143" y="298" width="1" height="132"/><rect x="170" y="316" width="1" height="114"/><rect x="174" y="311" width="1" height="119"/><rect x="178" y="313" width="1" height="117"/><rect x="182" y="311" width="1" height="119"/><rect x="186" y="300" width="1" height="130"/><rect x="217" y="281" width="1" height="149"/><rect x="221" y="287" width="1" height="143"/><rect x="225" y="287" width="1" height="143"/><rect x="229" y="296" width="1" height="134"/><rect x="233" y="287" width="1" height="143"/><rect x="260" y="253" width="1" height="177"/><rect x="264" y="255" width="1" height="175"/><rect x="268" y="248" width="1" height="182"/><rect x="272" y="246" width="1" height="184"/><rect x="276" y="237" width="1" height="193"/><rect x="307" y="150" width="1" height="280"/><rect x="311" y="150" width="1" height="280"/><rect x="315" y="153" width="1" height="277"/><rect x="319" y="146" width="1" height="284"/><rect x="323" y="118" width="1" height="312"/><rect x="350" y="94" width="1" height="336"/><rect x="354" y="83" width="1" height="347"/><rect x="358" y="85" width="1" height="345"/><rect x="362" y="87" width="1" height="343"/><rect x="366" y="92" width="1" height="338"/><rect x="397" y="127" width="1" height="303"/><rect x="401" y="142" width="1" height="288"/><rect x="405" y="150" width="1" height="280"/><rect x="409" y="159" width="1" height="271"/><rect x="413" y="181" width="1" height="249"/><rect x="440" y="207" width="1" height="223"/><rect x="444" y="209" width="1" height="221"/><rect x="448" y="205" width="1" height="225"/><rect x="452" y="207" width="1" height="223"/><rect x="456" y="220" width="1" height="210"/><rect x="483" y="266" width="1" height="164"/><rect x="487" y="263" width="1" height="167"/><rect x="491" y="281" width="1" height="149"/><rect x="495" y="276" width="1" height="154"/><rect x="499" y="279" width="1" height="151"/><rect x="530" y="320" width="1" height="110"/><rect x="534" y="318" width="1" height="112"/><rect x="538" y="331" width="1" height="99"/><rect x="542" y="346" width="1" height="84"/><rect x="546" y="346" width="1" height="84"/><rect x="573" y="342" width="1" height="88"/><rect x="577" y="335" width="1" height="95"/><rect x="581" y="331" width="1" height="99"/><rect x="585" y="329" width="1" height="101"/><rect x="589" y="329" width="1" height="101"/><rect x="620" y="344" width="1" height="86"/><rect x="624" y="346" width="1" height="84"/><rect x="628" y="333" width="1" height="97"/><rect x="632" y="335" width="1" height="95"/><rect x="636" y="337" width="1" height="93"/><rect x="663" y="337" width="1" height="93"/><rect x="667" y="350" width="1" height="80"/><rect x="671" y="346" width="1" height="84"/><rect x="675" y="340" width="1" height="90"/><rect x="679" y="344" width="1" height="86"/><rect x="710" y="326" width="1" height="104"/><rect x="714" y="326" width="1" height="104"/><rect x="718" y="318" width="1" height="112"/><rect x="722" y="320" width="1" height="110"/><rect x="726" y="322" width="1" height="108"/><rect x="753" y="294" width="1" height="136"/><rect x="757" y="290" width="1" height="140"/><rect x="761" y="290" width="1" height="140"/><rect x="765" y="281" width="1" height="149"/><rect x="769" y="274" width="1" height="156"/><rect x="796" y="248" width="1" height="182"/><rect x="800" y="248" width="1" height="182"/><rect x="804" y="246" width="1" height="184"/><rect x="808" y="248" width="1" height="182"/><rect x="812" y="246" width="1" height="184"/><rect x="843" y="276" width="1" height="154"/><rect x="847" y="279" width="1" height="151"/><rect x="851" y="281" width="1" height="149"/><rect x="855" y="279" width="1" height="151"/><rect x="859" y="261" width="1" height="169"/><rect x="886" y="296" width="1" height="134"/><rect x="890" y="300" width="1" height="130"/><rect x="894" y="298" width="1" height="132"/><rect x="898" y="300" width="1" height="130"/><rect x="902" y="307" width="1" height="123"/><rect x="933" y="344" width="1" height="86"/><rect x="937" y="340" width="1" height="90"/><rect x="941" y="337" width="1" height="93"/><rect x="945" y="333" width="1" height="97"/><rect x="949" y="329" width="1" height="101"/><rect x="976" y="342" width="1" height="88"/><rect x="980" y="337" width="1" height="93"/><rect x="984" y="329" width="1" height="101"/><rect x="988" y="320" width="1" height="110"/><rect x="992" y="313" width="1" height="117"/><rect x="1023" y="294" width="1" height="136"/><rect x="1027" y="298" width="1" height="132"/><rect x="1031" y="311" width="1" height="119"/><rect x="1035" y="305" width="1" height="125"/><rect x="1039" y="313" width="1" height="117"/><rect x="1066" y="292" width="1" height="138"/><rect x="1070" y="290" width="1" height="140"/><rect x="1074" y="283" width="1" height="147"/><rect x="1078" y="270" width="1" height="160"/><rect x="1082" y="274" width="1" height="156"/></g>
<polyline points="42.45,363.26 46.36,362.02 50.27,362.33 54.18,360.78 58.10,357.99 62.01,356.12 65.92,354.88 69.83,354.57 73.75,353.64 77.66,353.33 81.57,352.40 85.48,352.09 89.40,351.47 93.31,349.92 97.22,348.99 101.13,347.44 105.05,344.64 108.96,344.33 112.87,344.64 116.78,345.26 120.70,345.57 124.61,344.95 128.52,344.64 132.43,341.85 136.35,337.20 140.26,330.37 144.17,322.92 148.08,314.54 152.00,306.16 155.91,297.16 159.82,293.75 163.73,292.20 167.65,294.06 171.56,296.54 175.47,300.27 179.38,304.30 183.30,308.96 187.21,309.58 191.12,309.58 195.03,308.03 198.95,303.68 202.86,299.65 206.77,294.68 210.68,289.10 214.60,283.51 218.51,280.41 222.42,278.24 226.33,278.55 230.25,280.41 234.16,281.65 238.07,284.75 241.98,289.10 245.90,289.10 249.81,286.92 253.72,282.27 257.63,276.37 261.55,271.41 265.46,265.82 269.37,259.62 273.28,254.65 277.20,249.69 281.11,247.51 285.02,243.48 288.93,237.58 292.85,229.21 296.76,220.83 300.67,212.14 304.58,202.21 308.50,189.49 312.41,178.62 316.32,170.25 320.23,163.11 324.15,152.87 328.06,144.18 331.97,139.84 335.88,138.59 339.80,136.42 343.71,133.32 347.62,129.60 351.53,126.18 355.45,120.29 359.36,112.84 363.27,105.08 367.18,98.87 371.10,93.29 375.01,91.74 378.92,93.91 382.83,94.22 386.75,97.01 390.66,100.43 394.57,105.08 398.48,110.05 402.40,114.70 406.31,120.60 410.22,131.15 414.13,142.01 418.05,151.32 421.96,159.70 425.87,168.69 429.78,177.69 433.70,185.45 437.61,192.28 441.52,196.00 445.43,200.66 449.35,203.76 453.26,206.24 457.17,208.41 461.08,212.14 465.00,217.10 468.91,223.00 472.82,228.59 476.73,235.41 480.65,241.93 484.56,248.45 488.47,253.10 492.38,258.69 496.30,262.72 500.21,267.06 504.12,271.41 508.03,276.06 511.95,280.72 515.86,287.86 519.77,293.13 523.68,299.34 527.60,305.85 531.51,311.13 535.42,315.78 539.33,320.44 543.25,325.09 547.16,329.13 551.07,332.85 554.98,336.57 558.90,339.99 562.81,343.40 566.72,344.64 570.63,343.71 574.55,343.09 578.46,341.54 582.37,338.75 586.28,336.57 590.20,334.71 594.11,333.16 598.02,333.16 601.93,332.85 605.85,333.78 609.76,334.40 613.67,335.33 617.58,337.20 621.50,339.37 625.41,340.30 629.32,339.37 633.23,338.44 637.15,338.75 641.06,337.51 644.97,335.64 648.88,333.78 652.80,332.23 656.71,333.47 660.62,334.40 664.53,334.40 668.45,337.82 672.36,340.30 676.27,341.54 680.18,342.78 684.10,343.09 688.01,344.33 691.92,344.64 695.83,342.16 699.75,340.30 703.66,338.75 707.57,335.64 711.48,333.16 715.40,329.75 719.31,326.64 723.22,324.78 727.13,323.23 731.05,320.75 734.96,319.20 738.87,317.65 742.78,314.54 746.70,310.51 750.61,306.78 754.52,302.75 758.43,299.65 762.35,296.54 766.26,291.58 770.17,287.23 774.08,285.99 778.00,283.51 781.91,280.41 785.82,276.37 789.73,271.41 793.65,266.13 797.56,262.41 801.47,257.75 805.38,253.41 809.30,250.00 813.21,247.82 817.12,247.82 821.03,251.86 824.95,256.51 828.86,262.41 832.77,269.55 836.68,276.68 840.60,281.96 844.51,285.06 848.42,285.99 852.33,285.99 856.25,284.44 860.16,279.48 864.07,274.51 867.98,272.34 871.90,272.65 875.81,271.72 879.72,272.34 883.63,274.82 887.55,279.79 891.46,285.06 895.37,289.41 899.28,292.51 903.20,297.48 907.11,301.20 911.02,304.61 914.93,309.58 918.85,313.61 922.76,318.27 926.67,322.92 930.58,326.64 934.50,331.30 938.41,334.09 942.32,335.02 946.23,335.64 950.15,335.33 954.06,335.33 957.97,335.64 961.88,334.71 965.80,335.95 969.71,337.82 973.62,340.30 977.53,342.16 981.45,342.78 985.36,341.85 989.27,339.37 993.18,334.40 997.10,330.37 1001.01,326.02 1004.92,321.06 1008.83,314.85 1012.75,310.20 1016.66,307.41 1020.57,304.92 1024.48,300.89 1028.40,297.79 1032.31,298.41 1036.22,299.96 1040.13,302.44 1044.05,303.37 1047.96,306.16 1051.87,307.41 1055.78,308.34 1059.70,306.78 1063.61,306.16 1067.52,303.06 1071.43,300.58 1075.35,295.92 1079.26,291.27 1083.17,286.92 1087.08,281.34 1091.00,274.51 1094.91,269.55 1098.82,264.58" fill="none" stroke="#ED7D31" stroke-width="2" stroke-linejoin="round" stroke-linecap="round"/>
<polyline points="198.95,317.10 202.86,315.01 206.77,312.53 210.68,309.97 214.60,307.17 218.51,304.85 222.42,302.67 226.33,300.42 230.25,298.72 234.16,296.70 238.07,294.99 241.98,293.98 245.90,292.82 249.81,291.81 253.72,290.26 257.63,289.17 261.55,288.01 265.46,287.16 269.37,285.45 273.28,283.43 277.20,280.72 281.11,278.00 285.02,274.98 288.93,271.33 292.85,267.22 296.76,263.26 300.67,259.07 304.58,254.26 308.50,249.45 312.41,244.72 316.32,240.22 320.23,235.72 324.15,230.60 328.06,225.02 331.97,219.66 335.88,214.47 339.80,208.73 343.71,203.14 347.62,196.93 351.53,189.87 355.45,182.81 359.36,176.14 363.27,170.17 367.18,164.35 371.10,158.61 375.01,153.41 378.92,148.45 382.83,142.71 386.75,137.97 390.66,133.40 394.57,129.75 398.48,126.72 402.40,124.79 406.31,123.39 410.22,122.46 414.13,122.92 418.05,123.85 421.96,125.02 425.87,126.34 429.78,128.43 433.70,131.53 437.61,134.48 441.52,136.97 445.43,139.37 449.35,141.85 453.26,144.57 457.17,148.14 461.08,153.02 465.00,158.69 468.91,164.51 472.82,170.25 476.73,175.99 480.65,181.73 484.56,187.31 488.47,192.82 492.38,199.80 496.30,205.93 500.21,211.91 504.12,217.57 508.03,223.23 511.95,228.82 515.86,234.64 519.77,240.30 523.68,245.26 527.60,250.54 531.51,255.43 535.42,260.00 539.33,264.50 543.25,269.55 547.16,274.51 551.07,279.48 554.98,284.52 558.90,289.48 562.81,294.29 566.72,298.56 570.63,302.44 574.55,306.01 578.46,309.11 582.37,312.06 586.28,314.78 590.20,317.49 594.11,319.74 598.02,322.46 601.93,324.55 605.85,326.88 609.76,328.89 613.67,330.76 617.58,332.77 621.50,334.40 625.41,335.57 629.32,336.11 633.23,336.65 637.15,337.12 641.06,337.35 644.97,337.74 648.88,337.74 652.80,337.35 656.71,337.20 660.62,337.04 664.53,336.57 668.45,336.81 672.36,336.96 676.27,336.96 680.18,337.12 684.10,337.20 688.01,337.74 691.92,338.05 695.83,338.20 699.75,338.36 703.66,338.36 707.57,337.74 711.48,337.27 715.40,336.73 719.31,336.11 723.22,335.57 727.13,334.87 731.05,333.70 734.96,332.46 738.87,331.84 742.78,330.76 746.70,329.05 750.61,327.89 754.52,326.64 758.43,325.17 762.35,323.54 766.26,321.37 770.17,318.96 774.08,316.95 778.00,314.31 781.91,311.67 785.82,308.88 789.73,305.70 793.65,302.13 797.56,298.48 801.47,295.23 805.38,292.12 809.30,289.10 813.21,286.15 817.12,283.74 821.03,281.80 824.95,280.18 828.86,279.17 832.77,278.31 836.68,277.46 840.60,276.45 844.51,275.21 848.42,273.89 852.33,273.04 856.25,272.65 860.16,271.49 864.07,270.40 867.98,269.62 871.90,269.24 875.81,268.93 879.72,269.31 883.63,269.86 887.55,270.56 891.46,271.56 895.37,272.88 899.28,274.51 903.20,276.76 907.11,279.01 911.02,281.57 914.93,284.60 918.85,287.47 922.76,290.49 926.67,293.29 930.58,295.46 934.50,297.71 938.41,299.49 942.32,300.97 946.23,302.21 950.15,303.84 954.06,305.85 957.97,307.87 961.88,309.89 965.80,312.37 969.71,315.55 973.62,318.65 977.53,321.29 981.45,323.39 985.36,325.40 989.27,326.64 993.18,327.27 997.10,328.20 1001.01,328.89 1004.92,329.20 1008.83,328.97 1012.75,328.58 1016.66,328.20 1020.57,327.34 1024.48,326.02 1028.40,324.94 1032.31,324.24 1036.22,323.23 1040.13,322.53 1044.05,321.21 1047.96,320.36 1051.87,319.12 1055.78,318.11 1059.70,317.10 1063.61,315.94 1067.52,314.39 1071.43,312.68 1075.35,310.35 1079.26,307.48 1083.17,304.77 1087.08,301.90 1091.00,298.87 1094.91,296.31 1098.82,293.98" fill="none" stroke="#A5A5A5" stroke-width="2" stroke-linejoin="round" stroke-linecap="round"/>
<polyline points="335.88,290.43 339.80,287.56 343.71,284.71 347.62,281.74 351.53,278.58 355.45,275.22 359.36,271.86 363.27,268.57 367.18,265.37 371.10,262.21 375.01,259.21 378.92,256.21 382.83,253.01 386.75,250.11 390.66,247.27 394.57,244.55 398.48,241.84 402.40,239.30 406.31,236.82 410.22,234.57 414.13,232.60 418.05,230.59 421.96,228.70 425.87,226.81 429.78,225.16 433.70,223.55 437.61,221.90 441.52,220.22 445.43,218.54 449.35,216.88 453.26,215.25 457.17,213.80 461.08,212.74 465.00,211.89 468.91,211.27 472.82,210.68 476.73,210.29 480.65,209.90 484.56,209.74 488.47,209.36 492.38,209.10 496.30,208.66 500.21,208.22 504.12,207.88 508.03,207.55 511.95,207.39 515.86,207.55 519.77,207.73 523.68,207.93 527.60,208.40 531.51,208.84 535.42,209.30 539.33,210.00 543.25,211.01 547.16,211.79 551.07,212.49 554.98,213.24 558.90,213.80 562.81,214.45 566.72,214.99 570.63,215.56 574.55,216.29 578.46,217.04 582.37,217.94 586.28,218.82 590.20,219.73 594.11,220.61 598.02,221.69 601.93,222.80 605.85,224.04 609.76,225.18 613.67,226.48 617.58,228.03 621.50,229.79 625.41,231.65 629.32,233.41 633.23,235.40 637.15,237.62 641.06,239.72 644.97,241.81 648.88,244.01 652.80,246.59 656.71,249.18 660.62,251.61 664.53,253.94 668.45,256.50 672.36,259.06 676.27,261.67 680.18,264.64 684.10,267.75 688.01,270.90 691.92,273.90 695.83,276.77 699.75,279.64 703.66,282.25 707.57,284.79 711.48,287.66 715.40,290.30 719.31,292.75 723.22,295.08 727.13,297.41 731.05,299.43 734.96,301.34 738.87,303.20 742.78,304.67 746.70,306.02 750.61,307.34 754.52,308.58 758.43,309.59 762.35,310.60 766.26,311.48 770.17,312.28 774.08,313.13 778.00,313.98 781.91,314.76 785.82,315.25 789.73,315.54 793.65,315.56 797.56,315.56 801.47,315.56 805.38,315.48 809.30,315.43 813.21,315.20 817.12,315.10 821.03,314.99 824.95,315.04 828.86,315.17 832.77,315.33 836.68,315.48 840.60,315.30 844.51,314.86 848.42,314.40 852.33,313.93 856.25,313.39 860.16,312.69 864.07,312.04 867.98,311.29 871.90,310.49 875.81,309.61 879.72,308.89 883.63,308.24 887.55,307.67 891.46,307.18 895.37,306.69 899.28,306.23 903.20,305.81 907.11,305.53 911.02,305.40 914.93,305.42 918.85,305.42 922.76,305.45 926.67,305.37 930.58,305.30 934.50,305.32 938.41,305.37 942.32,305.40 946.23,305.30 950.15,305.11 954.06,304.96 957.97,304.98 961.88,305.01 965.80,305.14 969.71,305.42 973.62,305.68 977.53,305.81 981.45,305.84 985.36,305.68 989.27,305.42 993.18,305.14 997.10,304.80 1001.01,304.49 1004.92,304.11 1008.83,303.51 1012.75,302.94 1016.66,302.35 1020.57,301.83 1024.48,301.36 1028.40,300.95 1032.31,300.74 1036.22,300.54 1040.13,300.38 1044.05,300.15 1047.96,300.12 1051.87,299.92 1055.78,299.71 1059.70,299.58 1063.61,299.45 1067.52,299.17 1071.43,298.99 1075.35,298.91 1079.26,298.62 1083.17,298.39 1087.08,298.05 1091.00,297.61 1094.91,297.33 1098.82,297.10" fill="none" stroke="#FFC000" stroke-width="2" stroke-linejoin="round" stroke-linecap="round"/>
<g font-size="7.7" fill="#6c6c6c" text-anchor="middle">
<text x="42.4" y="446.3">日</text>
<text x="54.2" y="446.3">水</text>
<text x="65.9" y="446.3">土</text>
<text x="77.7" y="446.3">火</text>
<text x="89.4" y="446.3">金</text>
<text x="101.1" y="446.3">月</text>
<text x="112.9" y="446.3">木</text>
<text x="124.6" y="446.3">日</text>
<text x="136.3" y="446.3">水</text>
<text x="148.1" y="446.3">土</text>
<text x="159.8" y="446.3">火</text>
<text x="171.6" y="446.3">金</text>
<text x="183.3" y="446.3">月</text>
<text x="195.0" y="446.3">木</text>
<text x="206.8" y="446.3">日</text>
<text x="218.5" y="446.3">水</text>
<text x="230.2" y="446.3">土</text>
<text x="242.0" y="446.3">火</text>
<text x="253.7" y="446.3">金</text>
<text x="265.5" y="446.3">月</text>
<text x="277.2" y="446.3">木</text>
<text x="288.9" y="446.3">日</text>
<text x="300.7" y="446.3">水</text>
<text x="312.4" y="446.3">土</text>
<text x="324.1" y="446.3">火</text>
<text x="335.9" y="446.3">金</text>
<text x="347.6" y="446.3">月</text>
<text x="359.4" y="446.3">木</text>
<text x="371.1" y="446.3">日</text>
<text x="382.8" y="446.3">水</text>
<text x="394.6" y="446.3">土</text>
<text x="406.3" y="446.3">火</text>
<text x="418.0" y="446.3">金</text>
<text x="429.8" y="446.3">月</text>
<text x="441.5" y="446.3">木</text>
<text x="453.3" y="446.3">日</text>
<text x="465.0" y="446.3">水</text>
<text x="476.7" y="446.3">土</text>
<text x="488.5" y="446.3">火</text>
<text x="500.2" y="443.8" font-size="7" fill="#444" font-weight="bold">ha</text>
<text x="511.9" y="446.3">月</text>
<text x="523.7" y="446.3">木</text>
<text x="535.4" y="446.3">日</text>
<text x="547.2" y="446.3">水</text>
<text x="558.9" y="446.3">土</text>
<text x="570.6" y="446.3">火</text>
<text x="582.4" y="446.3">金</text>
<text x="594.1" y="446.3">月</text>
<text x="605.8" y="446.3">木</text>
<text x="617.6" y="446.3">日</text>
<text x="629.3" y="446.3">水</text>
<text x="641.1" y="446.3">土</text>
<text x="652.8" y="446.3">火</text>
<text x="664.5" y="446.3">金</text>
<text x="676.3" y="446.3">月</text>
<text x="688.0" y="446.3">木</text>
<text x="699.7" y="446.3">日</text>
<text x="711.5" y="446.3">水</text>
<text x="723.2" y="446.3">土</text>
<text x="735.0" y="446.3">火</text>
<text x="746.7" y="446.3">金</text>
<text x="758.4" y="446.3">月</text>
<text x="770.2" y="446.3">木</text>
<text x="781.9" y="446.3">日</text>
<text x="793.6" y="446.3">水</text>
<text x="805.4" y="446.3">土</text>
<text x="817.1" y="446.3">火</text>
<text x="828.9" y="446.3">金</text>
<text x="840.6" y="446.3">月</text>
<text x="852.3" y="446.3">木</text>
<text x="864.1" y="446.3">日</text>
<text x="875.8" y="446.3">水</text>
<text x="887.5" y="446.3">土</text>
<text x="899.3" y="446.3">火</text>
<text x="911.0" y="446.3">金</text>
<text x="922.8" y="446.3">月</text>
<text x="934.5" y="446.3">木</text>
<text x="946.2" y="446.3">日</text>
<text x="958.0" y="446.3">水</text>
<text x="969.7" y="446.3">土</text>
<text x="981.4" y="446.3">火</text>
<text x="993.2" y="446.3">金</text>
<text x="1004.9" y="446.3">月</text>
<text x="1016.7" y="446.3">木</text>
<text x="1028.4" y="446.3">日</text>
<text x="1040.1" y="446.3">水</text>
<text x="1051.9" y="446.3">土</text>
<text x="1063.6" y="446.3">火</text>
<text x="1075.3" y="446.3">金</text>
<text x="1087.1" y="446.3">月</text>
<text x="1098.8" y="446.3">木</text>
</g>
<g text-anchor="middle">
<text x="42.4" y="463.8" font-size="7.3" fill="#404040" stroke="#404040" stroke-width="0.12" transform="translate(42.4 0) scale(1.04 1) translate(-42.4 0)">11</text><text x="42.4" y="476.4" font-size="7.8" fill="#6c6c6c">月</text><text x="42.4" y="488.2" font-size="7.3" fill="#404040" stroke="#404040" stroke-width="0.12" transform="translate(42.4 0) scale(1.04 1) translate(-42.4 0)">1</text><text x="42.4" y="499.4" font-size="7.6" fill="#6c6c6c">日</text>
<text x="54.2" y="463.8" font-size="7.3" fill="#404040" stroke="#404040" stroke-width="0.12" transform="translate(54.2 0) scale(1.04 1) translate(-54.2 0)">11</text><text x="54.2" y="476.4" font-size="7.8" fill="#6c6c6c">月</text><text x="54.2" y="488.2" font-size="7.3" fill="#404040" stroke="#404040" stroke-width="0.12" transform="translate(54.2 0) scale(1.04 1) translate(-54.2 0)">4</text><text x="54.2" y="499.4" font-size="7.6" fill="#6c6c6c">日</text>
<text x="65.9" y="463.8" font-size="7.3" fill="#404040" stroke="#404040" stroke-width="0.12" transform="translate(65.9 0) scale(1.04 1) translate(-65.9 0)">11</text><text x="65.9" y="476.4" font-size="7.8" fill="#6c6c6c">月</text><text x="65.9" y="488.2" font-size="7.3" fill="#404040" stroke="#404040" stroke-width="0.12" transform="translate(65.9 0) scale(1.04 1) translate(-65.9 0)">7</text><text x="65.9" y="499.4" font-size="7.6" fill="#6c6c6c">日</text>
<text x="77.7" y="463.8" font-size="7.3" fill="#404040" stroke="#404040" stroke-width="0.12" transform="translate(77.7 0) scale(1.04 1) translate(-77.7 0)">11</text><text x="77.7" y="476.4" font-size="7.8" fill="#6c6c6c">月</text><text x="77.7" y="488.2" font-size="7.3" fill="#404040" stroke="#404040" stroke-width="0.12" transform="translate(77.7 0) scale(1.04 1) translate(-77.7 0)">10</text><text x="77.7" y="499.4" font-size="7.6" fill="#6c6c6c">日</text>
<text x="89.4" y="463.8" font-size="7.3" fill="#404040" stroke="#404040" stroke-width="0.12" transform="translate(89.4 0) scale(1.04 1) translate(-89.4 0)">11</text><text x="89.4" y="476.4" font-size="7.8" fill="#6c6c6c">月</text><text x="89.4" y="488.2" font-size="7.3" fill="#404040" stroke="#404040" stroke-width="0.12" transform="translate(89.4 0) scale(1.04 1) translate(-89.4 0)">13</text><text x="89.4" y="499.4" font-size="7.6" fill="#6c6c6c">日</text>
<text x="101.1" y="463.8" font-size="7.3" fill="#404040" stroke="#404040" stroke-width="0.12" transform="translate(101.1 0) scale(1.04 1) translate(-101.1 0)">11</text><text x="101.1" y="476.4" font-size="7.8" fill="#6c6c6c">月</text><text x="101.1" y="488.2" font-size="7.3" fill="#404040" stroke="#404040" stroke-width="0.12" transform="translate(101.1 0) scale(1.04 1) translate(-101.1 0)">16</text><text x="101.1" y="499.4" font-size="7.6" fill="#6c6c6c">日</text>
<text x="112.9" y="463.8" font-size="7.3" fill="#404040" stroke="#404040" stroke-width="0.12" transform="translate(112.9 0) scale(1.04 1) translate(-112.9 0)">11</text><text x="112.9" y="476.4" font-size="7.8" fill="#6c6c6c">月</text><text x="112.9" y="488.2" font-size="7.3" fill="#404040" stroke="#404040" stroke-width="0.12" transform="translate(112.9 0) scale(1.04 1) translate(-112.9 0)">19</text><text x="112.9" y="499.4" font-size="7.6" fill="#6c6c6c">日</text>
<text x="124.6" y="463.8" font-size="7.3" fill="#404040" stroke="#404040" stroke-width="0.12" transform="translate(124.6 0) scale(1.04 1) translate(-124.6 0)">11</text><text x="124.6" y="476.4" font-size="7.8" fill="#6c6c6c">月</text><text x="124.6" y="488.2" font-size="7.3" fill="#404040" stroke="#404040" stroke-width="0.12" transform="translate(124.6 0) scale(1.04 1) translate(-124.6 0)">22</text><text x="124.6" y="499.4" font-size="7.6" fill="#6c6c6c">日</text>
<text x="136.3" y="463.8" font-size="7.3" fill="#404040" stroke="#404040" stroke-width="0.12" transform="translate(136.3 0) scale(1.04 1) translate(-136.3 0)">11</text><text x="136.3" y="476.4" font-size="7.8" fill="#6c6c6c">月</text><text x="136.3" y="488.2" font-size="7.3" fill="#404040" stroke="#404040" stroke-width="0.12" transform="translate(136.3 0) scale(1.04 1) translate(-136.3 0)">25</text><text x="136.3" y="499.4" font-size="7.6" fill="#6c6c6c">日</text>
<text x="148.1" y="463.8" font-size="7.3" fill="#404040" stroke="#404040" stroke-width="0.12" transform="translate(148.1 0) scale(1.04 1) translate(-148.1 0)">11</text><text x="148.1" y="476.4" font-size="7.8" fill="#6c6c6c">月</text><text x="148.1" y="488.2" font-size="7.3" fill="#404040" stroke="#404040" stroke-width="0.12" transform="translate(148.1 0) scale(1.04 1) translate(-148.1 0)">28</text><text x="148.1" y="499.4" font-size="7.6" fill="#6c6c6c">日</text>
<text x="159.8" y="463.8" font-size="7.3" fill="#404040" stroke="#404040" stroke-width="0.12" transform="translate(159.8 0) scale(1.04 1) translate(-159.8 0)">12</text><text x="159.8" y="476.4" font-size="7.8" fill="#6c6c6c">月</text><text x="159.8" y="488.2" font-size="7.3" fill="#404040" stroke="#404040" stroke-width="0.12" transform="translate(159.8 0) scale(1.04 1) translate(-159.8 0)">1</text><text x="159.8" y="499.4" font-size="7.6" fill="#6c6c6c">日</text>
<text x="171.6" y="463.8" font-size="7.3" fill="#404040" stroke="#404040" stroke-width="0.12" transform="translate(171.6 0) scale(1.04 1) translate(-171.6 0)">12</text><text x="171.6" y="476.4" font-size="7.8" fill="#6c6c6c">月</text><text x="171.6" y="488.2" font-size="7.3" fill="#404040" stroke="#404040" stroke-width="0.12" transform="translate(171.6 0) scale(1.04 1) translate(-171.6 0)">4</text><text x="171.6" y="499.4" font-size="7.6" fill="#6c6c6c">日</text>
<text x="183.3" y="463.8" font-size="7.3" fill="#404040" stroke="#404040" stroke-width="0.12" transform="translate(183.3 0) scale(1.04 1) translate(-183.3 0)">12</text><text x="183.3" y="476.4" font-size="7.8" fill="#6c6c6c">月</text><text x="183.3" y="488.2" font-size="7.3" fill="#404040" stroke="#404040" stroke-width="0.12" transform="translate(183.3 0) scale(1.04 1) translate(-183.3 0)">7</text><text x="183.3" y="499.4" font-size="7.6" fill="#6c6c6c">日</text>
<text x="195.0" y="463.8" font-size="7.3" fill="#404040" stroke="#404040" stroke-width="0.12" transform="translate(195.0 0) scale(1.04 1) translate(-195.0 0)">12</text><text x="195.0" y="476.4" font-size="7.8" fill="#6c6c6c">月</text><text x="195.0" y="488.2" font-size="7.3" fill="#404040" stroke="#404040" stroke-width="0.12" transform="translate(195.0 0) scale(1.04 1) translate(-195.0 0)">10</text><text x="195.0" y="499.4" font-size="7.6" fill="#6c6c6c">日</text>
<text x="206.8" y="463.8" font-size="7.3" fill="#404040" stroke="#404040" stroke-width="0.12" transform="translate(206.8 0) scale(1.04 1) translate(-206.8 0)">12</text><text x="206.8" y="476.4" font-size="7.8" fill="#6c6c6c">月</text><text x="206.8" y="488.2" font-size="7.3" fill="#404040" stroke="#404040" stroke-width="0.12" transform="translate(206.8 0) scale(1.04 1) translate(-206.8 0)">13</text><text x="206.8" y="499.4" font-size="7.6" fill="#6c6c6c">日</text>
<text x="218.5" y="463.8" font-size="7.3" fill="#404040" stroke="#404040" stroke-width="0.12" transform="translate(218.5 0) scale(1.04 1) translate(-218.5 0)">12</text><text x="218.5" y="476.4" font-size="7.8" fill="#6c6c6c">月</text><text x="218.5" y="488.2" font-size="7.3" fill="#404040" stroke="#404040" stroke-width="0.12" transform="translate(218.5 0) scale(1.04 1) translate(-218.5 0)">16</text><text x="218.5" y="499.4" font-size="7.6" fill="#6c6c6c">日</text>
<text x="230.2" y="463.8" font-size="7.3" fill="#404040" stroke="#404040" stroke-width="0.12" transform="translate(230.2 0) scale(1.04 1) translate(-230.2 0)">12</text><text x="230.2" y="476.4" font-size="7.8" fill="#6c6c6c">月</text><text x="230.2" y="488.2" font-size="7.3" fill="#404040" stroke="#404040" stroke-width="0.12" transform="translate(230.2 0) scale(1.04 1) translate(-230.2 0)">19</text><text x="230.2" y="499.4" font-size="7.6" fill="#6c6c6c">日</text>
<text x="242.0" y="463.8" font-size="7.3" fill="#404040" stroke="#404040" stroke-width="0.12" transform="translate(242.0 0) scale(1.04 1) translate(-242.0 0)">12</text><text x="242.0" y="476.4" font-size="7.8" fill="#6c6c6c">月</text><text x="242.0" y="488.2" font-size="7.3" fill="#404040" stroke="#404040" stroke-width="0.12" transform="translate(242.0 0) scale(1.04 1) translate(-242.0 0)">22</text><text x="242.0" y="499.4" font-size="7.6" fill="#6c6c6c">日</text>
<text x="253.7" y="463.8" font-size="7.3" fill="#404040" stroke="#404040" stroke-width="0.12" transform="translate(253.7 0) scale(1.04 1) translate(-253.7 0)">12</text><text x="253.7" y="476.4" font-size="7.8" fill="#6c6c6c">月</text><text x="253.7" y="488.2" font-size="7.3" fill="#404040" stroke="#404040" stroke-width="0.12" transform="translate(253.7 0) scale(1.04 1) translate(-253.7 0)">25</text><text x="253.7" y="499.4" font-size="7.6" fill="#6c6c6c">日</text>
<text x="265.5" y="463.8" font-size="7.3" fill="#404040" stroke="#404040" stroke-width="0.12" transform="translate(265.5 0) scale(1.04 1) translate(-265.5 0)">12</text><text x="265.5" y="476.4" font-size="7.8" fill="#6c6c6c">月</text><text x="265.5" y="488.2" font-size="7.3" fill="#404040" stroke="#404040" stroke-width="0.12" transform="translate(265.5 0) scale(1.04 1) translate(-265.5 0)">28</text><text x="265.5" y="499.4" font-size="7.6" fill="#6c6c6c">日</text>
<text x="277.2" y="463.8" font-size="7.3" fill="#404040" stroke="#404040" stroke-width="0.12" transform="translate(277.2 0) scale(1.04 1) translate(-277.2 0)">12</text><text x="277.2" y="476.4" font-size="7.8" fill="#6c6c6c">月</text><text x="277.2" y="488.2" font-size="7.3" fill="#404040" stroke="#404040" stroke-width="0.12" transform="translate(277.2 0) scale(1.04 1) translate(-277.2 0)">31</text><text x="277.2" y="499.4" font-size="7.6" fill="#6c6c6c">日</text>
<text x="288.9" y="463.8" font-size="7.3" fill="#404040" stroke="#404040" stroke-width="0.12" transform="translate(288.9 0) scale(1.04 1) translate(-288.9 0)">1</text><text x="288.9" y="476.4" font-size="7.8" fill="#6c6c6c">月</text><text x="288.9" y="488.2" font-size="7.3" fill="#404040" stroke="#404040" stroke-width="0.12" transform="translate(288.9 0) scale(1.04 1) translate(-288.9 0)">3</text><text x="288.9" y="499.4" font-size="7.6" fill="#6c6c6c">日</text>
<text x="300.7" y="463.8" font-size="7.3" fill="#404040" stroke="#404040" stroke-width="0.12" transform="translate(300.7 0) scale(1.04 1) translate(-300.7 0)">1</text><text x="300.7" y="476.4" font-size="7.8" fill="#6c6c6c">月</text><text x="300.7" y="488.2" font-size="7.3" fill="#404040" stroke="#404040" stroke-width="0.12" transform="translate(300.7 0) scale(1.04 1) translate(-300.7 0)">6</text><text x="300.7" y="499.4" font-size="7.6" fill="#6c6c6c">日</text>
<text x="312.4" y="463.8" font-size="7.3" fill="#404040" stroke="#404040" stroke-width="0.12" transform="translate(312.4 0) scale(1.04 1) translate(-312.4 0)">1</text><text x="312.4" y="476.4" font-size="7.8" fill="#6c6c6c">月</text><text x="312.4" y="488.2" font-size="7.3" fill="#404040" stroke="#404040" stroke-width="0.12" transform="translate(312.4 0) scale(1.04 1) translate(-312.4 0)">9</text><text x="312.4" y="499.4" font-size="7.6" fill="#6c6c6c">日</text>
<text x="324.1" y="463.8" font-size="7.3" fill="#404040" stroke="#404040" stroke-width="0.12" transform="translate(324.1 0) scale(1.04 1) translate(-324.1 0)">1</text><text x="324.1" y="476.4" font-size="7.8" fill="#6c6c6c">月</text><text x="324.1" y="488.2" font-size="7.3" fill="#404040" stroke="#404040" stroke-width="0.12" transform="translate(324.1 0) scale(1.04 1) translate(-324.1 0)">12</text><text x="324.1" y="499.4" font-size="7.6" fill="#6c6c6c">日</text>
<text x="335.9" y="463.8" font-size="7.3" fill="#404040" stroke="#404040" stroke-width="0.12" transform="translate(335.9 0) scale(1.04 1) translate(-335.9 0)">1</text><text x="335.9" y="476.4" font-size="7.8" fill="#6c6c6c">月</text><text x="335.9" y="488.2" font-size="7.3" fill="#404040" stroke="#404040" stroke-width="0.12" transform="translate(335.9 0) scale(1.04 1) translate(-335.9 0)">15</text><text x="335.9" y="499.4" font-size="7.6" fill="#6c6c6c">日</text>
<text x="347.6" y="463.8" font-size="7.3" fill="#404040" stroke="#404040" stroke-width="0.12" transform="translate(347.6 0) scale(1.04 1) translate(-347.6 0)">1</text><text x="347.6" y="476.4" font-size="7.8" fill="#6c6c6c">月</text><text x="347.6" y="488.2" font-size="7.3" fill="#404040" stroke="#404040" stroke-width="0.12" transform="translate(347.6 0) scale(1.04 1) translate(-347.6 0)">18</text><text x="347.6" y="499.4" font-size="7.6" fill="#6c6c6c">日</text>
<text x="359.4" y="463.8" font-size="7.3" fill="#404040" stroke="#404040" stroke-width="0.12" transform="translate(359.4 0) scale(1.04 1) translate(-359.4 0)">1</text><text x="359.4" y="476.4" font-size="7.8" fill="#6c6c6c">月</text><text x="359.4" y="488.2" font-size="7.3" fill="#404040" stroke="#404040" stroke-width="0.12" transform="translate(359.4 0) scale(1.04 1) translate(-359.4 0)">21</text><text x="359.4" y="499.4" font-size="7.6" fill="#6c6c6c">日</text>
<text x="371.1" y="463.8" font-size="7.3" fill="#404040" stroke="#404040" stroke-width="0.12" transform="translate(371.1 0) scale(1.04 1) translate(-371.1 0)">1</text><text x="371.1" y="476.4" font-size="7.8" fill="#6c6c6c">月</text><text x="371.1" y="488.2" font-size="7.3" fill="#404040" stroke="#404040" stroke-width="0.12" transform="translate(371.1 0) scale(1.04 1) translate(-371.1 0)">24</text><text x="371.1" y="499.4" font-size="7.6" fill="#6c6c6c">日</text>
<text x="382.8" y="463.8" font-size="7.3" fill="#404040" stroke="#404040" stroke-width="0.12" transform="translate(382.8 0) scale(1.04 1) translate(-382.8 0)">1</text><text x="382.8" y="476.4" font-size="7.8" fill="#6c6c6c">月</text><text x="382.8" y="488.2" font-size="7.3" fill="#404040" stroke="#404040" stroke-width="0.12" transform="translate(382.8 0) scale(1.04 1) translate(-382.8 0)">27</text><text x="382.8" y="499.4" font-size="7.6" fill="#6c6c6c">日</text>
<text x="394.6" y="463.8" font-size="7.3" fill="#404040" stroke="#404040" stroke-width="0.12" transform="translate(394.6 0) scale(1.04 1) translate(-394.6 0)">1</text><text x="394.6" y="476.4" font-size="7.8" fill="#6c6c6c">月</text><text x="394.6" y="488.2" font-size="7.3" fill="#404040" stroke="#404040" stroke-width="0.12" transform="translate(394.6 0) scale(1.04 1) translate(-394.6 0)">30</text><text x="394.6" y="499.4" font-size="7.6" fill="#6c6c6c">日</text>
<text x="406.3" y="463.8" font-size="7.3" fill="#404040" stroke="#404040" stroke-width="0.12" transform="translate(406.3 0) scale(1.04 1) translate(-406.3 0)">2</text><text x="406.3" y="476.4" font-size="7.8" fill="#6c6c6c">月</text><text x="406.3" y="488.2" font-size="7.3" fill="#404040" stroke="#404040" stroke-width="0.12" transform="translate(406.3 0) scale(1.04 1) translate(-406.3 0)">2</text><text x="406.3" y="499.4" font-size="7.6" fill="#6c6c6c">日</text>
<text x="418.0" y="463.8" font-size="7.3" fill="#404040" stroke="#404040" stroke-width="0.12" transform="translate(418.0 0) scale(1.04 1) translate(-418.0 0)">2</text><text x="418.0" y="476.4" font-size="7.8" fill="#6c6c6c">月</text><text x="418.0" y="488.2" font-size="7.3" fill="#404040" stroke="#404040" stroke-width="0.12" transform="translate(418.0 0) scale(1.04 1) translate(-418.0 0)">5</text><text x="418.0" y="499.4" font-size="7.6" fill="#6c6c6c">日</text>
<text x="429.8" y="463.8" font-size="7.3" fill="#404040" stroke="#404040" stroke-width="0.12" transform="translate(429.8 0) scale(1.04 1) translate(-429.8 0)">2</text><text x="429.8" y="476.4" font-size="7.8" fill="#6c6c6c">月</text><text x="429.8" y="488.2" font-size="7.3" fill="#404040" stroke="#404040" stroke-width="0.12" transform="translate(429.8 0) scale(1.04 1) translate(-429.8 0)">8</text><text x="429.8" y="499.4" font-size="7.6" fill="#6c6c6c">日</text>
<text x="441.5" y="463.8" font-size="7.3" fill="#404040" stroke="#404040" stroke-width="0.12" transform="translate(441.5 0) scale(1.04 1) translate(-441.5 0)">2</text><text x="441.5" y="476.4" font-size="7.8" fill="#6c6c6c">月</text><text x="441.5" y="488.2" font-size="7.3" fill="#404040" stroke="#404040" stroke-width="0.12" transform="translate(441.5 0) scale(1.04 1) translate(-441.5 0)">11</text><text x="441.5" y="499.4" font-size="7.6" fill="#6c6c6c">日</text>
<text x="453.3" y="463.8" font-size="7.3" fill="#404040" stroke="#404040" stroke-width="0.12" transform="translate(453.3 0) scale(1.04 1) translate(-453.3 0)">2</text><text x="453.3" y="476.4" font-size="7.8" fill="#6c6c6c">月</text><text x="453.3" y="488.2" font-size="7.3" fill="#404040" stroke="#404040" stroke-width="0.12" transform="translate(453.3 0) scale(1.04 1) translate(-453.3 0)">14</text><text x="453.3" y="499.4" font-size="7.6" fill="#6c6c6c">日</text>
<text x="465.0" y="463.8" font-size="7.3" fill="#404040" stroke="#404040" stroke-width="0.12" transform="translate(465.0 0) scale(1.04 1) translate(-465.0 0)">2</text><text x="465.0" y="476.4" font-size="7.8" fill="#6c6c6c">月</text><text x="465.0" y="488.2" font-size="7.3" fill="#404040" stroke="#404040" stroke-width="0.12" transform="translate(465.0 0) scale(1.04 1) translate(-465.0 0)">17</text><text x="465.0" y="499.4" font-size="7.6" fill="#6c6c6c">日</text>
<text x="476.7" y="463.8" font-size="7.3" fill="#404040" stroke="#404040" stroke-width="0.12" transform="translate(476.7 0) scale(1.04 1) translate(-476.7 0)">2</text><text x="476.7" y="476.4" font-size="7.8" fill="#6c6c6c">月</text><text x="476.7" y="488.2" font-size="7.3" fill="#404040" stroke="#404040" stroke-width="0.12" transform="translate(476.7 0) scale(1.04 1) translate(-476.7 0)">20</text><text x="476.7" y="499.4" font-size="7.6" fill="#6c6c6c">日</text>
<text x="488.5" y="463.8" font-size="7.3" fill="#404040" stroke="#404040" stroke-width="0.12" transform="translate(488.5 0) scale(1.04 1) translate(-488.5 0)">2</text><text x="488.5" y="476.4" font-size="7.8" fill="#6c6c6c">月</text><text x="488.5" y="488.2" font-size="7.3" fill="#404040" stroke="#404040" stroke-width="0.12" transform="translate(488.5 0) scale(1.04 1) translate(-488.5 0)">23</text><text x="488.5" y="499.4" font-size="7.6" fill="#6c6c6c">日</text>
<text x="500.2" y="463.8" font-size="7.3" fill="#404040" stroke="#404040" stroke-width="0.12" transform="translate(500.2 0) scale(1.04 1) translate(-500.2 0)">2</text><text x="500.2" y="476.4" font-size="7.8" fill="#6c6c6c">月</text><text x="500.2" y="488.2" font-size="7.3" fill="#404040" stroke="#404040" stroke-width="0.12" transform="translate(500.2 0) scale(1.04 1) translate(-500.2 0)">26</text><text x="500.2" y="499.4" font-size="7.6" fill="#6c6c6c">日</text>
<text x="511.9" y="463.8" font-size="7.3" fill="#404040" stroke="#404040" stroke-width="0.12" transform="translate(511.9 0) scale(1.04 1) translate(-511.9 0)">3</text><text x="511.9" y="476.4" font-size="7.8" fill="#6c6c6c">月</text><text x="511.9" y="488.2" font-size="7.3" fill="#404040" stroke="#404040" stroke-width="0.12" transform="translate(511.9 0) scale(1.04 1) translate(-511.9 0)">1</text><text x="511.9" y="499.4" font-size="7.6" fill="#6c6c6c">日</text>
<text x="523.7" y="463.8" font-size="7.3" fill="#404040" stroke="#404040" stroke-width="0.12" transform="translate(523.7 0) scale(1.04 1) translate(-523.7 0)">3</text><text x="523.7" y="476.4" font-size="7.8" fill="#6c6c6c">月</text><text x="523.7" y="488.2" font-size="7.3" fill="#404040" stroke="#404040" stroke-width="0.12" transform="translate(523.7 0) scale(1.04 1) translate(-523.7 0)">4</text><text x="523.7" y="499.4" font-size="7.6" fill="#6c6c6c">日</text>
<text x="535.4" y="463.8" font-size="7.3" fill="#404040" stroke="#404040" stroke-width="0.12" transform="translate(535.4 0) scale(1.04 1) translate(-535.4 0)">3</text><text x="535.4" y="476.4" font-size="7.8" fill="#6c6c6c">月</text><text x="535.4" y="488.2" font-size="7.3" fill="#404040" stroke="#404040" stroke-width="0.12" transform="translate(535.4 0) scale(1.04 1) translate(-535.4 0)">7</text><text x="535.4" y="499.4" font-size="7.6" fill="#6c6c6c">日</text>
<text x="547.2" y="463.8" font-size="7.3" fill="#404040" stroke="#404040" stroke-width="0.12" transform="translate(547.2 0) scale(1.04 1) translate(-547.2 0)">3</text><text x="547.2" y="476.4" font-size="7.8" fill="#6c6c6c">月</text><text x="547.2" y="488.2" font-size="7.3" fill="#404040" stroke="#404040" stroke-width="0.12" transform="translate(547.2 0) scale(1.04 1) translate(-547.2 0)">10</text><text x="547.2" y="499.4" font-size="7.6" fill="#6c6c6c">日</text>
<text x="558.9" y="463.8" font-size="7.3" fill="#404040" stroke="#404040" stroke-width="0.12" transform="translate(558.9 0) scale(1.04 1) translate(-558.9 0)">3</text><text x="558.9" y="476.4" font-size="7.8" fill="#6c6c6c">月</text><text x="558.9" y="488.2" font-size="7.3" fill="#404040" stroke="#404040" stroke-width="0.12" transform="translate(558.9 0) scale(1.04 1) translate(-558.9 0)">13</text><text x="558.9" y="499.4" font-size="7.6" fill="#6c6c6c">日</text>
<text x="570.6" y="463.8" font-size="7.3" fill="#404040" stroke="#404040" stroke-width="0.12" transform="translate(570.6 0) scale(1.04 1) translate(-570.6 0)">3</text><text x="570.6" y="476.4" font-size="7.8" fill="#6c6c6c">月</text><text x="570.6" y="488.2" font-size="7.3" fill="#404040" stroke="#404040" stroke-width="0.12" transform="translate(570.6 0) scale(1.04 1) translate(-570.6 0)">16</text><text x="570.6" y="499.4" font-size="7.6" fill="#6c6c6c">日</text>
<text x="582.4" y="463.8" font-size="7.3" fill="#404040" stroke="#404040" stroke-width="0.12" transform="translate(582.4 0) scale(1.04 1) translate(-582.4 0)">3</text><text x="582.4" y="476.4" font-size="7.8" fill="#6c6c6c">月</text><text x="582.4" y="488.2" font-size="7.3" fill="#404040" stroke="#404040" stroke-width="0.12" transform="translate(582.4 0) scale(1.04 1) translate(-582.4 0)">19</text><text x="582.4" y="499.4" font-size="7.6" fill="#6c6c6c">日</text>
<text x="594.1" y="463.8" font-size="7.3" fill="#404040" stroke="#404040" stroke-width="0.12" transform="translate(594.1 0) scale(1.04 1) translate(-594.1 0)">3</text><text x="594.1" y="476.4" font-size="7.8" fill="#6c6c6c">月</text><text x="594.1" y="488.2" font-size="7.3" fill="#404040" stroke="#404040" stroke-width="0.12" transform="translate(594.1 0) scale(1.04 1) translate(-594.1 0)">22</text><text x="594.1" y="499.4" font-size="7.6" fill="#6c6c6c">日</text>
<text x="605.8" y="463.8" font-size="7.3" fill="#404040" stroke="#404040" stroke-width="0.12" transform="translate(605.8 0) scale(1.04 1) translate(-605.8 0)">3</text><text x="605.8" y="476.4" font-size="7.8" fill="#6c6c6c">月</text><text x="605.8" y="488.2" font-size="7.3" fill="#404040" stroke="#404040" stroke-width="0.12" transform="translate(605.8 0) scale(1.04 1) translate(-605.8 0)">25</text><text x="605.8" y="499.4" font-size="7.6" fill="#6c6c6c">日</text>
<text x="617.6" y="463.8" font-size="7.3" fill="#404040" stroke="#404040" stroke-width="0.12" transform="translate(617.6 0) scale(1.04 1) translate(-617.6 0)">3</text><text x="617.6" y="476.4" font-size="7.8" fill="#6c6c6c">月</text><text x="617.6" y="488.2" font-size="7.3" fill="#404040" stroke="#404040" stroke-width="0.12" transform="translate(617.6 0) scale(1.04 1) translate(-617.6 0)">28</text><text x="617.6" y="499.4" font-size="7.6" fill="#6c6c6c">日</text>
<text x="629.3" y="463.8" font-size="7.3" fill="#404040" stroke="#404040" stroke-width="0.12" transform="translate(629.3 0) scale(1.04 1) translate(-629.3 0)">3</text><text x="629.3" y="476.4" font-size="7.8" fill="#6c6c6c">月</text><text x="629.3" y="488.2" font-size="7.3" fill="#404040" stroke="#404040" stroke-width="0.12" transform="translate(629.3 0) scale(1.04 1) translate(-629.3 0)">31</text><text x="629.3" y="499.4" font-size="7.6" fill="#6c6c6c">日</text>
<text x="641.1" y="463.8" font-size="7.3" fill="#404040" stroke="#404040" stroke-width="0.12" transform="translate(641.1 0) scale(1.04 1) translate(-641.1 0)">4</text><text x="641.1" y="476.4" font-size="7.8" fill="#6c6c6c">月</text><text x="641.1" y="488.2" font-size="7.3" fill="#404040" stroke="#404040" stroke-width="0.12" transform="translate(641.1 0) scale(1.04 1) translate(-641.1 0)">3</text><text x="641.1" y="499.4" font-size="7.6" fill="#6c6c6c">日</text>
<text x="652.8" y="463.8" font-size="7.3" fill="#404040" stroke="#404040" stroke-width="0.12" transform="translate(652.8 0) scale(1.04 1) translate(-652.8 0)">4</text><text x="652.8" y="476.4" font-size="7.8" fill="#6c6c6c">月</text><text x="652.8" y="488.2" font-size="7.3" fill="#404040" stroke="#404040" stroke-width="0.12" transform="translate(652.8 0) scale(1.04 1) translate(-652.8 0)">6</text><text x="652.8" y="499.4" font-size="7.6" fill="#6c6c6c">日</text>
<text x="664.5" y="463.8" font-size="7.3" fill="#404040" stroke="#404040" stroke-width="0.12" transform="translate(664.5 0) scale(1.04 1) translate(-664.5 0)">4</text><text x="664.5" y="476.4" font-size="7.8" fill="#6c6c6c">月</text><text x="664.5" y="488.2" font-size="7.3" fill="#404040" stroke="#404040" stroke-width="0.12" transform="translate(664.5 0) scale(1.04 1) translate(-664.5 0)">9</text><text x="664.5" y="499.4" font-size="7.6" fill="#6c6c6c">日</text>
<text x="676.3" y="463.8" font-size="7.3" fill="#404040" stroke="#404040" stroke-width="0.12" transform="translate(676.3 0) scale(1.04 1) translate(-676.3 0)">4</text><text x="676.3" y="476.4" font-size="7.8" fill="#6c6c6c">月</text><text x="676.3" y="488.2" font-size="7.3" fill="#404040" stroke="#404040" stroke-width="0.12" transform="translate(676.3 0) scale(1.04 1) translate(-676.3 0)">12</text><text x="676.3" y="499.4" font-size="7.6" fill="#6c6c6c">日</text>
<text x="688.0" y="463.8" font-size="7.3" fill="#404040" stroke="#404040" stroke-width="0.12" transform="translate(688.0 0) scale(1.04 1) translate(-688.0 0)">4</text><text x="688.0" y="476.4" font-size="7.8" fill="#6c6c6c">月</text><text x="688.0" y="488.2" font-size="7.3" fill="#404040" stroke="#404040" stroke-width="0.12" transform="translate(688.0 0) scale(1.04 1) translate(-688.0 0)">15</text><text x="688.0" y="499.4" font-size="7.6" fill="#6c6c6c">日</text>
<text x="699.7" y="463.8" font-size="7.3" fill="#404040" stroke="#404040" stroke-width="0.12" transform="translate(699.7 0) scale(1.04 1) translate(-699.7 0)">4</text><text x="699.7" y="476.4" font-size="7.8" fill="#6c6c6c">月</text><text x="699.7" y="488.2" font-size="7.3" fill="#404040" stroke="#404040" stroke-width="0.12" transform="translate(699.7 0) scale(1.04 1) translate(-699.7 0)">18</text><text x="699.7" y="499.4" font-size="7.6" fill="#6c6c6c">日</text>
<text x="711.5" y="463.8" font-size="7.3" fill="#404040" stroke="#404040" stroke-width="0.12" transform="translate(711.5 0) scale(1.04 1) translate(-711.5 0)">4</text><text x="711.5" y="476.4" font-size="7.8" fill="#6c6c6c">月</text><text x="711.5" y="488.2" font-size="7.3" fill="#404040" stroke="#404040" stroke-width="0.12" transform="translate(711.5 0) scale(1.04 1) translate(-711.5 0)">21</text><text x="711.5" y="499.4" font-size="7.6" fill="#6c6c6c">日</text>
<text x="723.2" y="463.8" font-size="7.3" fill="#404040" stroke="#404040" stroke-width="0.12" transform="translate(723.2 0) scale(1.04 1) translate(-723.2 0)">4</text><text x="723.2" y="476.4" font-size="7.8" fill="#6c6c6c">月</text><text x="723.2" y="488.2" font-size="7.3" fill="#404040" stroke="#404040" stroke-width="0.12" transform="translate(723.2 0) scale(1.04 1) translate(-723.2 0)">24</text><text x="723.2" y="499.4" font-size="7.6" fill="#6c6c6c">日</text>
<text x="735.0" y="463.8" font-size="7.3" fill="#404040" stroke="#404040" stroke-width="0.12" transform="translate(735.0 0) scale(1.04 1) translate(-735.0 0)">4</text><text x="735.0" y="476.4" font-size="7.8" fill="#6c6c6c">月</text><text x="735.0" y="488.2" font-size="7.3" fill="#404040" stroke="#404040" stroke-width="0.12" transform="translate(735.0 0) scale(1.04 1) translate(-735.0 0)">27</text><text x="735.0" y="499.4" font-size="7.6" fill="#6c6c6c">日</text>
<text x="746.7" y="463.8" font-size="7.3" fill="#404040" stroke="#404040" stroke-width="0.12" transform="translate(746.7 0) scale(1.04 1) translate(-746.7 0)">4</text><text x="746.7" y="476.4" font-size="7.8" fill="#6c6c6c">月</text><text x="746.7" y="488.2" font-size="7.3" fill="#404040" stroke="#404040" stroke-width="0.12" transform="translate(746.7 0) scale(1.04 1) translate(-746.7 0)">30</text><text x="746.7" y="499.4" font-size="7.6" fill="#6c6c6c">日</text>
<text x="758.4" y="463.8" font-size="7.3" fill="#404040" stroke="#404040" stroke-width="0.12" transform="translate(758.4 0) scale(1.04 1) translate(-758.4 0)">5</text><text x="758.4" y="476.4" font-size="7.8" fill="#6c6c6c">月</text><text x="758.4" y="488.2" font-size="7.3" fill="#404040" stroke="#404040" stroke-width="0.12" transform="translate(758.4 0) scale(1.04 1) translate(-758.4 0)">3</text><text x="758.4" y="499.4" font-size="7.6" fill="#6c6c6c">日</text>
<text x="770.2" y="463.8" font-size="7.3" fill="#404040" stroke="#404040" stroke-width="0.12" transform="translate(770.2 0) scale(1.04 1) translate(-770.2 0)">5</text><text x="770.2" y="476.4" font-size="7.8" fill="#6c6c6c">月</text><text x="770.2" y="488.2" font-size="7.3" fill="#404040" stroke="#404040" stroke-width="0.12" transform="translate(770.2 0) scale(1.04 1) translate(-770.2 0)">6</text><text x="770.2" y="499.4" font-size="7.6" fill="#6c6c6c">日</text>
<text x="781.9" y="463.8" font-size="7.3" fill="#404040" stroke="#404040" stroke-width="0.12" transform="translate(781.9 0) scale(1.04 1) translate(-781.9 0)">5</text><text x="781.9" y="476.4" font-size="7.8" fill="#6c6c6c">月</text><text x="781.9" y="488.2" font-size="7.3" fill="#404040" stroke="#404040" stroke-width="0.12" transform="translate(781.9 0) scale(1.04 1) translate(-781.9 0)">9</text><text x="781.9" y="499.4" font-size="7.6" fill="#6c6c6c">日</text>
<text x="793.6" y="463.8" font-size="7.3" fill="#404040" stroke="#404040" stroke-width="0.12" transform="translate(793.6 0) scale(1.04 1) translate(-793.6 0)">5</text><text x="793.6" y="476.4" font-size="7.8" fill="#6c6c6c">月</text><text x="793.6" y="488.2" font-size="7.3" fill="#404040" stroke="#404040" stroke-width="0.12" transform="translate(793.6 0) scale(1.04 1) translate(-793.6 0)">12</text><text x="793.6" y="499.4" font-size="7.6" fill="#6c6c6c">日</text>
<text x="805.4" y="463.8" font-size="7.3" fill="#404040" stroke="#404040" stroke-width="0.12" transform="translate(805.4 0) scale(1.04 1) translate(-805.4 0)">5</text><text x="805.4" y="476.4" font-size="7.8" fill="#6c6c6c">月</text><text x="805.4" y="488.2" font-size="7.3" fill="#404040" stroke="#404040" stroke-width="0.12" transform="translate(805.4 0) scale(1.04 1) translate(-805.4 0)">15</text><text x="805.4" y="499.4" font-size="7.6" fill="#6c6c6c">日</text>
<text x="817.1" y="463.8" font-size="7.3" fill="#404040" stroke="#404040" stroke-width="0.12" transform="translate(817.1 0) scale(1.04 1) translate(-817.1 0)">5</text><text x="817.1" y="476.4" font-size="7.8" fill="#6c6c6c">月</text><text x="817.1" y="488.2" font-size="7.3" fill="#404040" stroke="#404040" stroke-width="0.12" transform="translate(817.1 0) scale(1.04 1) translate(-817.1 0)">18</text><text x="817.1" y="499.4" font-size="7.6" fill="#6c6c6c">日</text>
<text x="828.9" y="463.8" font-size="7.3" fill="#404040" stroke="#404040" stroke-width="0.12" transform="translate(828.9 0) scale(1.04 1) translate(-828.9 0)">5</text><text x="828.9" y="476.4" font-size="7.8" fill="#6c6c6c">月</text><text x="828.9" y="488.2" font-size="7.3" fill="#404040" stroke="#404040" stroke-width="0.12" transform="translate(828.9 0) scale(1.04 1) translate(-828.9 0)">21</text><text x="828.9" y="499.4" font-size="7.6" fill="#6c6c6c">日</text>
<text x="840.6" y="463.8" font-size="7.3" fill="#404040" stroke="#404040" stroke-width="0.12" transform="translate(840.6 0) scale(1.04 1) translate(-840.6 0)">5</text><text x="840.6" y="476.4" font-size="7.8" fill="#6c6c6c">月</text><text x="840.6" y="488.2" font-size="7.3" fill="#404040" stroke="#404040" stroke-width="0.12" transform="translate(840.6 0) scale(1.04 1) translate(-840.6 0)">24</text><text x="840.6" y="499.4" font-size="7.6" fill="#6c6c6c">日</text>
<text x="852.3" y="463.8" font-size="7.3" fill="#404040" stroke="#404040" stroke-width="0.12" transform="translate(852.3 0) scale(1.04 1) translate(-852.3 0)">5</text><text x="852.3" y="476.4" font-size="7.8" fill="#6c6c6c">月</text><text x="852.3" y="488.2" font-size="7.3" fill="#404040" stroke="#404040" stroke-width="0.12" transform="translate(852.3 0) scale(1.04 1) translate(-852.3 0)">27</text><text x="852.3" y="499.4" font-size="7.6" fill="#6c6c6c">日</text>
<text x="864.1" y="463.8" font-size="7.3" fill="#404040" stroke="#404040" stroke-width="0.12" transform="translate(864.1 0) scale(1.04 1) translate(-864.1 0)">5</text><text x="864.1" y="476.4" font-size="7.8" fill="#6c6c6c">月</text><text x="864.1" y="488.2" font-size="7.3" fill="#404040" stroke="#404040" stroke-width="0.12" transform="translate(864.1 0) scale(1.04 1) translate(-864.1 0)">30</text><text x="864.1" y="499.4" font-size="7.6" fill="#6c6c6c">日</text>
<text x="875.8" y="463.8" font-size="7.3" fill="#404040" stroke="#404040" stroke-width="0.12" transform="translate(875.8 0) scale(1.04 1) translate(-875.8 0)">6</text><text x="875.8" y="476.4" font-size="7.8" fill="#6c6c6c">月</text><text x="875.8" y="488.2" font-size="7.3" fill="#404040" stroke="#404040" stroke-width="0.12" transform="translate(875.8 0) scale(1.04 1) translate(-875.8 0)">2</text><text x="875.8" y="499.4" font-size="7.6" fill="#6c6c6c">日</text>
<text x="887.5" y="463.8" font-size="7.3" fill="#404040" stroke="#404040" stroke-width="0.12" transform="translate(887.5 0) scale(1.04 1) translate(-887.5 0)">6</text><text x="887.5" y="476.4" font-size="7.8" fill="#6c6c6c">月</text><text x="887.5" y="488.2" font-size="7.3" fill="#404040" stroke="#404040" stroke-width="0.12" transform="translate(887.5 0) scale(1.04 1) translate(-887.5 0)">5</text><text x="887.5" y="499.4" font-size="7.6" fill="#6c6c6c">日</text>
<text x="899.3" y="463.8" font-size="7.3" fill="#404040" stroke="#404040" stroke-width="0.12" transform="translate(899.3 0) scale(1.04 1) translate(-899.3 0)">6</text><text x="899.3" y="476.4" font-size="7.8" fill="#6c6c6c">月</text><text x="899.3" y="488.2" font-size="7.3" fill="#404040" stroke="#404040" stroke-width="0.12" transform="translate(899.3 0) scale(1.04 1) translate(-899.3 0)">8</text><text x="899.3" y="499.4" font-size="7.6" fill="#6c6c6c">日</text>
<text x="911.0" y="463.8" font-size="7.3" fill="#404040" stroke="#404040" stroke-width="0.12" transform="translate(911.0 0) scale(1.04 1) translate(-911.0 0)">6</text><text x="911.0" y="476.4" font-size="7.8" fill="#6c6c6c">月</text><text x="911.0" y="488.2" font-size="7.3" fill="#404040" stroke="#404040" stroke-width="0.12" transform="translate(911.0 0) scale(1.04 1) translate(-911.0 0)">11</text><text x="911.0" y="499.4" font-size="7.6" fill="#6c6c6c">日</text>
<text x="922.8" y="463.8" font-size="7.3" fill="#404040" stroke="#404040" stroke-width="0.12" transform="translate(922.8 0) scale(1.04 1) translate(-922.8 0)">6</text><text x="922.8" y="476.4" font-size="7.8" fill="#6c6c6c">月</text><text x="922.8" y="488.2" font-size="7.3" fill="#404040" stroke="#404040" stroke-width="0.12" transform="translate(922.8 0) scale(1.04 1) translate(-922.8 0)">14</text><text x="922.8" y="499.4" font-size="7.6" fill="#6c6c6c">日</text>
<text x="934.5" y="463.8" font-size="7.3" fill="#404040" stroke="#404040" stroke-width="0.12" transform="translate(934.5 0) scale(1.04 1) translate(-934.5 0)">6</text><text x="934.5" y="476.4" font-size="7.8" fill="#6c6c6c">月</text><text x="934.5" y="488.2" font-size="7.3" fill="#404040" stroke="#404040" stroke-width="0.12" transform="translate(934.5 0) scale(1.04 1) translate(-934.5 0)">17</text><text x="934.5" y="499.4" font-size="7.6" fill="#6c6c6c">日</text>
<text x="946.2" y="463.8" font-size="7.3" fill="#404040" stroke="#404040" stroke-width="0.12" transform="translate(946.2 0) scale(1.04 1) translate(-946.2 0)">6</text><text x="946.2" y="476.4" font-size="7.8" fill="#6c6c6c">月</text><text x="946.2" y="488.2" font-size="7.3" fill="#404040" stroke="#404040" stroke-width="0.12" transform="translate(946.2 0) scale(1.04 1) translate(-946.2 0)">20</text><text x="946.2" y="499.4" font-size="7.6" fill="#6c6c6c">日</text>
<text x="958.0" y="463.8" font-size="7.3" fill="#404040" stroke="#404040" stroke-width="0.12" transform="translate(958.0 0) scale(1.04 1) translate(-958.0 0)">6</text><text x="958.0" y="476.4" font-size="7.8" fill="#6c6c6c">月</text><text x="958.0" y="488.2" font-size="7.3" fill="#404040" stroke="#404040" stroke-width="0.12" transform="translate(958.0 0) scale(1.04 1) translate(-958.0 0)">23</text><text x="958.0" y="499.4" font-size="7.6" fill="#6c6c6c">日</text>
<text x="969.7" y="463.8" font-size="7.3" fill="#404040" stroke="#404040" stroke-width="0.12" transform="translate(969.7 0) scale(1.04 1) translate(-969.7 0)">6</text><text x="969.7" y="476.4" font-size="7.8" fill="#6c6c6c">月</text><text x="969.7" y="488.2" font-size="7.3" fill="#404040" stroke="#404040" stroke-width="0.12" transform="translate(969.7 0) scale(1.04 1) translate(-969.7 0)">26</text><text x="969.7" y="499.4" font-size="7.6" fill="#6c6c6c">日</text>
<text x="981.4" y="463.8" font-size="7.3" fill="#404040" stroke="#404040" stroke-width="0.12" transform="translate(981.4 0) scale(1.04 1) translate(-981.4 0)">6</text><text x="981.4" y="476.4" font-size="7.8" fill="#6c6c6c">月</text><text x="981.4" y="488.2" font-size="7.3" fill="#404040" stroke="#404040" stroke-width="0.12" transform="translate(981.4 0) scale(1.04 1) translate(-981.4 0)">29</text><text x="981.4" y="499.4" font-size="7.6" fill="#6c6c6c">日</text>
<text x="993.2" y="463.8" font-size="7.3" fill="#404040" stroke="#404040" stroke-width="0.12" transform="translate(993.2 0) scale(1.04 1) translate(-993.2 0)">7</text><text x="993.2" y="476.4" font-size="7.8" fill="#6c6c6c">月</text><text x="993.2" y="488.2" font-size="7.3" fill="#404040" stroke="#404040" stroke-width="0.12" transform="translate(993.2 0) scale(1.04 1) translate(-993.2 0)">2</text><text x="993.2" y="499.4" font-size="7.6" fill="#6c6c6c">日</text>
<text x="1004.9" y="463.8" font-size="7.3" fill="#404040" stroke="#404040" stroke-width="0.12" transform="translate(1004.9 0) scale(1.04 1) translate(-1004.9 0)">7</text><text x="1004.9" y="476.4" font-size="7.8" fill="#6c6c6c">月</text><text x="1004.9" y="488.2" font-size="7.3" fill="#404040" stroke="#404040" stroke-width="0.12" transform="translate(1004.9 0) scale(1.04 1) translate(-1004.9 0)">5</text><text x="1004.9" y="499.4" font-size="7.6" fill="#6c6c6c">日</text>
<text x="1016.7" y="463.8" font-size="7.3" fill="#404040" stroke="#404040" stroke-width="0.12" transform="translate(1016.7 0) scale(1.04 1) translate(-1016.7 0)">7</text><text x="1016.7" y="476.4" font-size="7.8" fill="#6c6c6c">月</text><text x="1016.7" y="488.2" font-size="7.3" fill="#404040" stroke="#404040" stroke-width="0.12" transform="translate(1016.7 0) scale(1.04 1) translate(-1016.7 0)">8</text><text x="1016.7" y="499.4" font-size="7.6" fill="#6c6c6c">日</text>
<text x="1028.4" y="463.8" font-size="7.3" fill="#404040" stroke="#404040" stroke-width="0.12" transform="translate(1028.4 0) scale(1.04 1) translate(-1028.4 0)">7</text><text x="1028.4" y="476.4" font-size="7.8" fill="#6c6c6c">月</text><text x="1028.4" y="488.2" font-size="7.3" fill="#404040" stroke="#404040" stroke-width="0.12" transform="translate(1028.4 0) scale(1.04 1) translate(-1028.4 0)">11</text><text x="1028.4" y="499.4" font-size="7.6" fill="#6c6c6c">日</text>
<text x="1040.1" y="463.8" font-size="7.3" fill="#404040" stroke="#404040" stroke-width="0.12" transform="translate(1040.1 0) scale(1.04 1) translate(-1040.1 0)">7</text><text x="1040.1" y="476.4" font-size="7.8" fill="#6c6c6c">月</text><text x="1040.1" y="488.2" font-size="7.3" fill="#404040" stroke="#404040" stroke-width="0.12" transform="translate(1040.1 0) scale(1.04 1) translate(-1040.1 0)">14</text><text x="1040.1" y="499.4" font-size="7.6" fill="#6c6c6c">日</text>
<text x="1051.9" y="463.8" font-size="7.3" fill="#404040" stroke="#404040" stroke-width="0.12" transform="translate(1051.9 0) scale(1.04 1) translate(-1051.9 0)">7</text><text x="1051.9" y="476.4" font-size="7.8" fill="#6c6c6c">月</text><text x="1051.9" y="488.2" font-size="7.3" fill="#404040" stroke="#404040" stroke-width="0.12" transform="translate(1051.9 0) scale(1.04 1) translate(-1051.9 0)">17</text><text x="1051.9" y="499.4" font-size="7.6" fill="#6c6c6c">日</text>
<text x="1063.6" y="463.8" font-size="7.3" fill="#404040" stroke="#404040" stroke-width="0.12" transform="translate(1063.6 0) scale(1.04 1) translate(-1063.6 0)">7</text><text x="1063.6" y="476.4" font-size="7.8" fill="#6c6c6c">月</text><text x="1063.6" y="488.2" font-size="7.3" fill="#404040" stroke="#404040" stroke-width="0.12" transform="translate(1063.6 0) scale(1.04 1) translate(-1063.6 0)">20</text><text x="1063.6" y="499.4" font-size="7.6" fill="#6c6c6c">日</text>
<text x="1075.3" y="463.8" font-size="7.3" fill="#404040" stroke="#404040" stroke-width="0.12" transform="translate(1075.3 0) scale(1.04 1) translate(-1075.3 0)">7</text><text x="1075.3" y="476.4" font-size="7.8" fill="#6c6c6c">月</text><text x="1075.3" y="488.2" font-size="7.3" fill="#404040" stroke="#404040" stroke-width="0.12" transform="translate(1075.3 0) scale(1.04 1) translate(-1075.3 0)">23</text><text x="1075.3" y="499.4" font-size="7.6" fill="#6c6c6c">日</text>
<text x="1087.1" y="463.8" font-size="7.3" fill="#404040" stroke="#404040" stroke-width="0.12" transform="translate(1087.1 0) scale(1.04 1) translate(-1087.1 0)">7</text><text x="1087.1" y="476.4" font-size="7.8" fill="#6c6c6c">月</text><text x="1087.1" y="488.2" font-size="7.3" fill="#404040" stroke="#404040" stroke-width="0.12" transform="translate(1087.1 0) scale(1.04 1) translate(-1087.1 0)">26</text><text x="1087.1" y="499.4" font-size="7.6" fill="#6c6c6c">日</text>
<text x="1098.8" y="463.8" font-size="7.3" fill="#404040" stroke="#404040" stroke-width="0.12" transform="translate(1098.8 0) scale(1.04 1) translate(-1098.8 0)">7</text><text x="1098.8" y="476.4" font-size="7.8" fill="#6c6c6c">月</text><text x="1098.8" y="488.2" font-size="7.3" fill="#404040" stroke="#404040" stroke-width="0.12" transform="translate(1098.8 0) scale(1.04 1) translate(-1098.8 0)">29</text><text x="1098.8" y="499.4" font-size="7.6" fill="#6c6c6c">日</text>
</g>
<text x="556.5" y="24.4" font-size="13.15" fill="#595959" text-anchor="middle">東京都重症者数</text>
<g shape-rendering="crispEdges"><rect x="462" y="513" width="18" height="4" fill="#4472C4"/><rect x="512" y="514" width="18" height="2" fill="#ED7D31"/><rect x="562" y="514" width="19" height="2" fill="#A5A5A5"/><rect x="612" y="514" width="19" height="2" fill="#FFC000"/></g>
<g font-size="7.9" fill="#595959">
<text x="482" y="517.2">系列1</text>
<text x="532.5" y="517.2">系列2</text>
<text x="583" y="517.2">系列3</text>
<text x="633.5" y="517.2">系列4</text>
</g>
</svg>
<div id="tip"><span>プロット エリア</span></div>
</body></html>
